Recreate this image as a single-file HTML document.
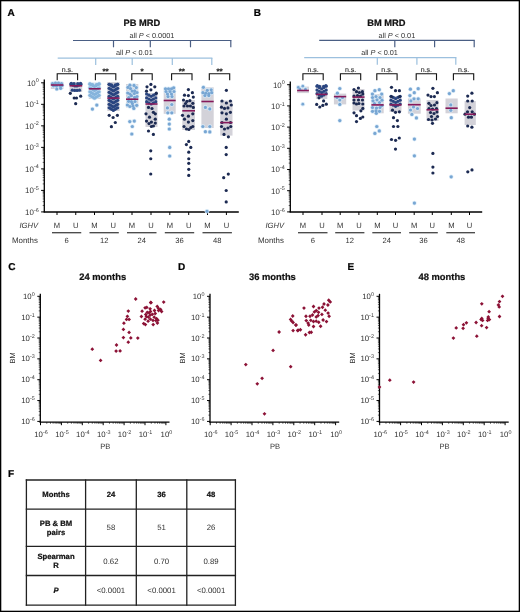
<!DOCTYPE html>
<html><head><meta charset="utf-8"><style>
html,body{margin:0;padding:0;background:#fff;}
svg{display:block;filter:blur(0.3px);}
text{font-family:"Liberation Sans",sans-serif;text-rendering:geometricPrecision;}
</style></head><body>
<svg width="520" height="612" viewBox="0 0 520 612">
<rect x="0.5" y="0.5" width="519" height="611" fill="#fff" stroke="#000" stroke-width="1.6"/>
<text x="7.6" y="16" font-size="10" font-weight="bold" stroke="#000" stroke-width="0.22" fill="#000">A</text>
<text x="123.5" y="26.3" font-size="9.3" font-weight="bold" stroke="#111" stroke-width="0.22" fill="#111">PB MRD</text>
<text x="129.5" y="37.7" font-size="7.3" fill="#333">all <tspan font-style="italic">P</tspan> &lt; 0.0001</text>
<line x1="73" y1="40.5" x2="231.4" y2="40.5" stroke="#4a5e84" stroke-width="1.2"/>
<line x1="113.5" y1="40.5" x2="113.5" y2="47.3" stroke="#4a5e84" stroke-width="1.2"/>
<line x1="150.3" y1="40.5" x2="150.3" y2="47.3" stroke="#4a5e84" stroke-width="1.2"/>
<line x1="190.5" y1="40.5" x2="190.5" y2="47.3" stroke="#4a5e84" stroke-width="1.2"/>
<line x1="230.8" y1="40.5" x2="230.8" y2="47.3" stroke="#4a5e84" stroke-width="1.2"/>
<text x="116" y="55.4" font-size="7.3" fill="#333">all <tspan font-style="italic">P</tspan> &lt; 0.01</text>
<line x1="57.7" y1="58.1" x2="212.4" y2="58.1" stroke="#9cc0de" stroke-width="1.3"/>
<line x1="95.7" y1="58.1" x2="95.7" y2="65" stroke="#9cc0de" stroke-width="1.2"/>
<line x1="132.2" y1="58.1" x2="132.2" y2="65" stroke="#9cc0de" stroke-width="1.2"/>
<line x1="172.3" y1="58.1" x2="172.3" y2="65" stroke="#9cc0de" stroke-width="1.2"/>
<line x1="211.8" y1="58.1" x2="211.8" y2="65" stroke="#9cc0de" stroke-width="1.2"/>
<path d="M57.2 80.2V73.8H77.6V80.2" fill="none" stroke="#111" stroke-width="1.1"/>
<text x="67.4" y="71.8" font-size="7" text-anchor="middle" fill="#333" stroke="#333" stroke-width="0.15">n.s.</text>
<path d="M95.4 80.2V73.8H115.8V80.2" fill="none" stroke="#111" stroke-width="1.1"/>
<text x="105.6" y="74" font-size="8" text-anchor="middle" font-weight="bold" stroke="#222" stroke-width="0.22" fill="#222">**</text>
<path d="M131.8 80.2V73.8H152.2V80.2" fill="none" stroke="#111" stroke-width="1.1"/>
<text x="142" y="74" font-size="8" text-anchor="middle" font-weight="bold" stroke="#222" stroke-width="0.22" fill="#222">*</text>
<path d="M171.6 80.2V73.8H192V80.2" fill="none" stroke="#111" stroke-width="1.1"/>
<text x="181.8" y="74" font-size="8" text-anchor="middle" font-weight="bold" stroke="#222" stroke-width="0.22" fill="#222">**</text>
<path d="M209.3 80.2V73.8H229.7V80.2" fill="none" stroke="#111" stroke-width="1.1"/>
<text x="219.5" y="74" font-size="8" text-anchor="middle" font-weight="bold" stroke="#222" stroke-width="0.22" fill="#222">**</text>
<line x1="44.3" y1="79.6" x2="44.3" y2="212.2" stroke="#000" stroke-width="1.3"/>
<line x1="43.65" y1="212" x2="238.8" y2="212" stroke="#000" stroke-width="1.3"/>
<line x1="41.1" y1="82.8" x2="44.3" y2="82.8" stroke="#000" stroke-width="1"/>
<text x="38.7" y="85.6" font-size="7.9" text-anchor="end" fill="#333">10<tspan dy="-3.2" font-size="5.4">0</tspan></text>
<line x1="42.7" y1="97.84" x2="44.3" y2="97.84" stroke="#000" stroke-width="0.6"/>
<line x1="42.7" y1="94.05" x2="44.3" y2="94.05" stroke="#000" stroke-width="0.6"/>
<line x1="42.7" y1="91.36" x2="44.3" y2="91.36" stroke="#000" stroke-width="0.6"/>
<line x1="42.7" y1="89.28" x2="44.3" y2="89.28" stroke="#000" stroke-width="0.6"/>
<line x1="42.7" y1="87.57" x2="44.3" y2="87.57" stroke="#000" stroke-width="0.6"/>
<line x1="42.7" y1="86.13" x2="44.3" y2="86.13" stroke="#000" stroke-width="0.6"/>
<line x1="42.7" y1="84.89" x2="44.3" y2="84.89" stroke="#000" stroke-width="0.6"/>
<line x1="42.7" y1="83.78" x2="44.3" y2="83.78" stroke="#000" stroke-width="0.6"/>
<line x1="41.1" y1="104.32" x2="44.3" y2="104.32" stroke="#000" stroke-width="1"/>
<text x="38.7" y="107.12" font-size="7.9" text-anchor="end" fill="#333">10<tspan dy="-3.2" font-size="5.4">-1</tspan></text>
<line x1="42.7" y1="119.36" x2="44.3" y2="119.36" stroke="#000" stroke-width="0.6"/>
<line x1="42.7" y1="115.57" x2="44.3" y2="115.57" stroke="#000" stroke-width="0.6"/>
<line x1="42.7" y1="112.88" x2="44.3" y2="112.88" stroke="#000" stroke-width="0.6"/>
<line x1="42.7" y1="110.8" x2="44.3" y2="110.8" stroke="#000" stroke-width="0.6"/>
<line x1="42.7" y1="109.09" x2="44.3" y2="109.09" stroke="#000" stroke-width="0.6"/>
<line x1="42.7" y1="107.65" x2="44.3" y2="107.65" stroke="#000" stroke-width="0.6"/>
<line x1="42.7" y1="106.41" x2="44.3" y2="106.41" stroke="#000" stroke-width="0.6"/>
<line x1="42.7" y1="105.3" x2="44.3" y2="105.3" stroke="#000" stroke-width="0.6"/>
<line x1="41.1" y1="125.84" x2="44.3" y2="125.84" stroke="#000" stroke-width="1"/>
<text x="38.7" y="128.64" font-size="7.9" text-anchor="end" fill="#333">10<tspan dy="-3.2" font-size="5.4">-2</tspan></text>
<line x1="42.7" y1="140.88" x2="44.3" y2="140.88" stroke="#000" stroke-width="0.6"/>
<line x1="42.7" y1="137.09" x2="44.3" y2="137.09" stroke="#000" stroke-width="0.6"/>
<line x1="42.7" y1="134.4" x2="44.3" y2="134.4" stroke="#000" stroke-width="0.6"/>
<line x1="42.7" y1="132.32" x2="44.3" y2="132.32" stroke="#000" stroke-width="0.6"/>
<line x1="42.7" y1="130.61" x2="44.3" y2="130.61" stroke="#000" stroke-width="0.6"/>
<line x1="42.7" y1="129.17" x2="44.3" y2="129.17" stroke="#000" stroke-width="0.6"/>
<line x1="42.7" y1="127.93" x2="44.3" y2="127.93" stroke="#000" stroke-width="0.6"/>
<line x1="42.7" y1="126.82" x2="44.3" y2="126.82" stroke="#000" stroke-width="0.6"/>
<line x1="41.1" y1="147.36" x2="44.3" y2="147.36" stroke="#000" stroke-width="1"/>
<text x="38.7" y="150.16" font-size="7.9" text-anchor="end" fill="#333">10<tspan dy="-3.2" font-size="5.4">-3</tspan></text>
<line x1="42.7" y1="162.4" x2="44.3" y2="162.4" stroke="#000" stroke-width="0.6"/>
<line x1="42.7" y1="158.61" x2="44.3" y2="158.61" stroke="#000" stroke-width="0.6"/>
<line x1="42.7" y1="155.92" x2="44.3" y2="155.92" stroke="#000" stroke-width="0.6"/>
<line x1="42.7" y1="153.84" x2="44.3" y2="153.84" stroke="#000" stroke-width="0.6"/>
<line x1="42.7" y1="152.13" x2="44.3" y2="152.13" stroke="#000" stroke-width="0.6"/>
<line x1="42.7" y1="150.69" x2="44.3" y2="150.69" stroke="#000" stroke-width="0.6"/>
<line x1="42.7" y1="149.45" x2="44.3" y2="149.45" stroke="#000" stroke-width="0.6"/>
<line x1="42.7" y1="148.34" x2="44.3" y2="148.34" stroke="#000" stroke-width="0.6"/>
<line x1="41.1" y1="168.88" x2="44.3" y2="168.88" stroke="#000" stroke-width="1"/>
<text x="38.7" y="171.68" font-size="7.9" text-anchor="end" fill="#333">10<tspan dy="-3.2" font-size="5.4">-4</tspan></text>
<line x1="42.7" y1="183.92" x2="44.3" y2="183.92" stroke="#000" stroke-width="0.6"/>
<line x1="42.7" y1="180.13" x2="44.3" y2="180.13" stroke="#000" stroke-width="0.6"/>
<line x1="42.7" y1="177.44" x2="44.3" y2="177.44" stroke="#000" stroke-width="0.6"/>
<line x1="42.7" y1="175.36" x2="44.3" y2="175.36" stroke="#000" stroke-width="0.6"/>
<line x1="42.7" y1="173.65" x2="44.3" y2="173.65" stroke="#000" stroke-width="0.6"/>
<line x1="42.7" y1="172.21" x2="44.3" y2="172.21" stroke="#000" stroke-width="0.6"/>
<line x1="42.7" y1="170.97" x2="44.3" y2="170.97" stroke="#000" stroke-width="0.6"/>
<line x1="42.7" y1="169.86" x2="44.3" y2="169.86" stroke="#000" stroke-width="0.6"/>
<line x1="41.1" y1="190.4" x2="44.3" y2="190.4" stroke="#000" stroke-width="1"/>
<text x="38.7" y="193.2" font-size="7.9" text-anchor="end" fill="#333">10<tspan dy="-3.2" font-size="5.4">-5</tspan></text>
<line x1="42.7" y1="205.44" x2="44.3" y2="205.44" stroke="#000" stroke-width="0.6"/>
<line x1="42.7" y1="201.65" x2="44.3" y2="201.65" stroke="#000" stroke-width="0.6"/>
<line x1="42.7" y1="198.96" x2="44.3" y2="198.96" stroke="#000" stroke-width="0.6"/>
<line x1="42.7" y1="196.88" x2="44.3" y2="196.88" stroke="#000" stroke-width="0.6"/>
<line x1="42.7" y1="195.17" x2="44.3" y2="195.17" stroke="#000" stroke-width="0.6"/>
<line x1="42.7" y1="193.73" x2="44.3" y2="193.73" stroke="#000" stroke-width="0.6"/>
<line x1="42.7" y1="192.49" x2="44.3" y2="192.49" stroke="#000" stroke-width="0.6"/>
<line x1="42.7" y1="191.38" x2="44.3" y2="191.38" stroke="#000" stroke-width="0.6"/>
<line x1="41.1" y1="211.92" x2="44.3" y2="211.92" stroke="#000" stroke-width="1"/>
<text x="38.7" y="214.72" font-size="7.9" text-anchor="end" fill="#333">10<tspan dy="-3.2" font-size="5.4">-6</tspan></text>
<line x1="57" y1="212" x2="57" y2="215" stroke="#000" stroke-width="1"/>
<line x1="75.75" y1="212" x2="75.75" y2="215" stroke="#000" stroke-width="1"/>
<line x1="94.5" y1="212" x2="94.5" y2="215" stroke="#000" stroke-width="1"/>
<line x1="113.3" y1="212" x2="113.3" y2="215" stroke="#000" stroke-width="1"/>
<line x1="132" y1="212" x2="132" y2="215" stroke="#000" stroke-width="1"/>
<line x1="151" y1="212" x2="151" y2="215" stroke="#000" stroke-width="1"/>
<line x1="169.8" y1="212" x2="169.8" y2="215" stroke="#000" stroke-width="1"/>
<line x1="188.7" y1="212" x2="188.7" y2="215" stroke="#000" stroke-width="1"/>
<line x1="207.5" y1="212" x2="207.5" y2="215" stroke="#000" stroke-width="1"/>
<line x1="226.4" y1="212" x2="226.4" y2="215" stroke="#000" stroke-width="1"/>
<rect x="50.8" y="82" width="12.6" height="7" fill="#d3d2d9"/>
<rect x="69.6" y="82" width="12.6" height="10" fill="#d3d2d9"/>
<rect x="88.8" y="82.7" width="11.9" height="16.3" fill="#d3d2d9"/>
<rect x="107.3" y="82" width="12.3" height="29" fill="#d3d2d9"/>
<rect x="126" y="84" width="12.3" height="23.5" fill="#d3d2d9"/>
<rect x="145.5" y="93" width="12" height="34" fill="#d3d2d9"/>
<rect x="163.7" y="88.3" width="12" height="25.5" fill="#d3d2d9"/>
<rect x="182.3" y="100" width="12.7" height="30" fill="#d3d2d9"/>
<rect x="201.4" y="87.3" width="12.3" height="40.7" fill="#d3d2d9"/>
<rect x="220.2" y="100.5" width="12.3" height="35.1" fill="#d3d2d9"/>
<circle cx="52.5" cy="83.5" r="2.3" fill="#d9eaf7"/>
<circle cx="55.5" cy="83" r="2.3" fill="#d9eaf7"/>
<circle cx="58.5" cy="83" r="2.3" fill="#d9eaf7"/>
<circle cx="61.5" cy="83.5" r="2.3" fill="#d9eaf7"/>
<circle cx="53.5" cy="85.8" r="2.3" fill="#d9eaf7"/>
<circle cx="56.5" cy="86" r="2.3" fill="#d9eaf7"/>
<circle cx="60" cy="86" r="2.3" fill="#d9eaf7"/>
<circle cx="62" cy="85.5" r="2.3" fill="#d9eaf7"/>
<circle cx="56.8" cy="89" r="2.3" fill="#d9eaf7"/>
<circle cx="60.7" cy="88.3" r="2.3" fill="#d9eaf7"/>
<circle cx="89.9" cy="83.75" r="2.3" fill="#d9eaf7"/>
<circle cx="91.43" cy="84.7" r="2.3" fill="#d9eaf7"/>
<circle cx="92.97" cy="85.65" r="2.3" fill="#d9eaf7"/>
<circle cx="94.5" cy="86.6" r="2.3" fill="#d9eaf7"/>
<circle cx="96.03" cy="85.65" r="2.3" fill="#d9eaf7"/>
<circle cx="97.57" cy="84.7" r="2.3" fill="#d9eaf7"/>
<circle cx="99.1" cy="83.75" r="2.3" fill="#d9eaf7"/>
<circle cx="89.9" cy="87.75" r="2.3" fill="#d9eaf7"/>
<circle cx="91.43" cy="88.7" r="2.3" fill="#d9eaf7"/>
<circle cx="92.97" cy="89.65" r="2.3" fill="#d9eaf7"/>
<circle cx="94.5" cy="90.6" r="2.3" fill="#d9eaf7"/>
<circle cx="96.03" cy="89.65" r="2.3" fill="#d9eaf7"/>
<circle cx="97.57" cy="88.7" r="2.3" fill="#d9eaf7"/>
<circle cx="99.1" cy="87.75" r="2.3" fill="#d9eaf7"/>
<circle cx="89.9" cy="91.75" r="2.3" fill="#d9eaf7"/>
<circle cx="91.43" cy="92.7" r="2.3" fill="#d9eaf7"/>
<circle cx="92.97" cy="93.65" r="2.3" fill="#d9eaf7"/>
<circle cx="94.5" cy="94.6" r="2.3" fill="#d9eaf7"/>
<circle cx="96.03" cy="93.65" r="2.3" fill="#d9eaf7"/>
<circle cx="97.57" cy="92.7" r="2.3" fill="#d9eaf7"/>
<circle cx="99.1" cy="91.75" r="2.3" fill="#d9eaf7"/>
<circle cx="89.9" cy="95.35" r="2.3" fill="#d9eaf7"/>
<circle cx="91.43" cy="96.3" r="2.3" fill="#d9eaf7"/>
<circle cx="92.97" cy="97.25" r="2.3" fill="#d9eaf7"/>
<circle cx="94.5" cy="98.2" r="2.3" fill="#d9eaf7"/>
<circle cx="96.03" cy="97.25" r="2.3" fill="#d9eaf7"/>
<circle cx="97.57" cy="96.3" r="2.3" fill="#d9eaf7"/>
<circle cx="99.1" cy="95.35" r="2.3" fill="#d9eaf7"/>
<circle cx="90" cy="84.2" r="2.3" fill="#d9eaf7"/>
<circle cx="92.6" cy="84.6" r="2.3" fill="#d9eaf7"/>
<circle cx="96.4" cy="84.6" r="2.3" fill="#d9eaf7"/>
<circle cx="99" cy="84.2" r="2.3" fill="#d9eaf7"/>
<circle cx="96.8" cy="105.1" r="2.3" fill="#d9eaf7"/>
<circle cx="92.4" cy="109.1" r="2.3" fill="#d9eaf7"/>
<circle cx="129.9" cy="85.2" r="2.3" fill="#d9eaf7"/>
<circle cx="134" cy="85.4" r="2.3" fill="#d9eaf7"/>
<circle cx="127.9" cy="87.4" r="2.3" fill="#d9eaf7"/>
<circle cx="136.3" cy="87.6" r="2.3" fill="#d9eaf7"/>
<circle cx="130.5" cy="88.6" r="2.3" fill="#d9eaf7"/>
<circle cx="132.1" cy="91.1" r="2.3" fill="#d9eaf7"/>
<circle cx="134.7" cy="90.8" r="2.3" fill="#d9eaf7"/>
<circle cx="127.7" cy="93" r="2.3" fill="#d9eaf7"/>
<circle cx="137" cy="92.5" r="2.3" fill="#d9eaf7"/>
<circle cx="129.9" cy="94" r="2.3" fill="#d9eaf7"/>
<circle cx="134.3" cy="93.5" r="2.3" fill="#d9eaf7"/>
<circle cx="131.4" cy="95.7" r="2.3" fill="#d9eaf7"/>
<circle cx="128.8" cy="97.6" r="2.3" fill="#d9eaf7"/>
<circle cx="134.6" cy="97.4" r="2.3" fill="#d9eaf7"/>
<circle cx="137" cy="96.5" r="2.3" fill="#d9eaf7"/>
<circle cx="131.4" cy="101.6" r="2.3" fill="#d9eaf7"/>
<circle cx="128.6" cy="101.3" r="2.3" fill="#d9eaf7"/>
<circle cx="135" cy="101.5" r="2.3" fill="#d9eaf7"/>
<circle cx="132.4" cy="103.6" r="2.3" fill="#d9eaf7"/>
<circle cx="127.4" cy="105" r="2.3" fill="#d9eaf7"/>
<circle cx="129.9" cy="106.5" r="2.3" fill="#d9eaf7"/>
<circle cx="136.7" cy="105.3" r="2.3" fill="#d9eaf7"/>
<circle cx="133" cy="106" r="2.3" fill="#d9eaf7"/>
<circle cx="133.8" cy="108.4" r="2.3" fill="#d9eaf7"/>
<circle cx="129.8" cy="121.6" r="2.3" fill="#d9eaf7"/>
<circle cx="134.3" cy="121.1" r="2.3" fill="#d9eaf7"/>
<circle cx="132.3" cy="126.5" r="2.3" fill="#d9eaf7"/>
<circle cx="131.8" cy="134" r="2.3" fill="#d9eaf7"/>
<circle cx="165.5" cy="88.8" r="2.3" fill="#d9eaf7"/>
<circle cx="168.5" cy="88.8" r="2.3" fill="#d9eaf7"/>
<circle cx="171.5" cy="88.8" r="2.3" fill="#d9eaf7"/>
<circle cx="173.7" cy="87.8" r="2.3" fill="#d9eaf7"/>
<circle cx="166" cy="91.5" r="2.3" fill="#d9eaf7"/>
<circle cx="170" cy="91.5" r="2.3" fill="#d9eaf7"/>
<circle cx="174" cy="91.5" r="2.3" fill="#d9eaf7"/>
<circle cx="167.5" cy="94" r="2.3" fill="#d9eaf7"/>
<circle cx="171.5" cy="94" r="2.3" fill="#d9eaf7"/>
<circle cx="168" cy="96.6" r="2.3" fill="#d9eaf7"/>
<circle cx="172" cy="96.6" r="2.3" fill="#d9eaf7"/>
<circle cx="171.8" cy="104.5" r="2.3" fill="#d9eaf7"/>
<circle cx="167.4" cy="107.9" r="2.3" fill="#d9eaf7"/>
<circle cx="167.8" cy="112.8" r="2.3" fill="#d9eaf7"/>
<circle cx="171.8" cy="112.8" r="2.3" fill="#d9eaf7"/>
<circle cx="169.3" cy="119.2" r="2.3" fill="#d9eaf7"/>
<circle cx="169.3" cy="124.1" r="2.3" fill="#d9eaf7"/>
<circle cx="169.3" cy="129" r="2.3" fill="#d9eaf7"/>
<circle cx="169.7" cy="147.4" r="2.3" fill="#d9eaf7"/>
<circle cx="169.7" cy="156" r="2.3" fill="#d9eaf7"/>
<circle cx="203.4" cy="87.3" r="2.3" fill="#d9eaf7"/>
<circle cx="207.3" cy="90.3" r="2.3" fill="#d9eaf7"/>
<circle cx="211.2" cy="89.8" r="2.3" fill="#d9eaf7"/>
<circle cx="202.9" cy="92.7" r="2.3" fill="#d9eaf7"/>
<circle cx="205.8" cy="93.2" r="2.3" fill="#d9eaf7"/>
<circle cx="208.8" cy="93.7" r="2.3" fill="#d9eaf7"/>
<circle cx="211.7" cy="92.7" r="2.3" fill="#d9eaf7"/>
<circle cx="204.9" cy="95.6" r="2.3" fill="#d9eaf7"/>
<circle cx="208.8" cy="95.6" r="2.3" fill="#d9eaf7"/>
<circle cx="205.4" cy="107.4" r="2.3" fill="#d9eaf7"/>
<circle cx="209.8" cy="108.9" r="2.3" fill="#d9eaf7"/>
<circle cx="202.9" cy="126.5" r="2.3" fill="#d9eaf7"/>
<circle cx="209.8" cy="126.5" r="2.3" fill="#d9eaf7"/>
<circle cx="205.4" cy="131.7" r="2.3" fill="#d9eaf7"/>
<circle cx="209.8" cy="131.9" r="2.3" fill="#d9eaf7"/>
<circle cx="207" cy="211.3" r="2.3" fill="#d9eaf7"/>
<circle cx="52.5" cy="83.5" r="1.6" fill="#78a6d3"/>
<circle cx="55.5" cy="83" r="1.6" fill="#78a6d3"/>
<circle cx="58.5" cy="83" r="1.6" fill="#78a6d3"/>
<circle cx="61.5" cy="83.5" r="1.6" fill="#78a6d3"/>
<circle cx="53.5" cy="85.8" r="1.6" fill="#78a6d3"/>
<circle cx="56.5" cy="86" r="1.6" fill="#78a6d3"/>
<circle cx="60" cy="86" r="1.6" fill="#78a6d3"/>
<circle cx="62" cy="85.5" r="1.6" fill="#78a6d3"/>
<circle cx="56.8" cy="89" r="1.6" fill="#78a6d3"/>
<circle cx="60.7" cy="88.3" r="1.6" fill="#78a6d3"/>
<circle cx="70.9" cy="84.15" r="1.6" fill="#2a4580"/>
<circle cx="72.9" cy="85.05" r="1.6" fill="#2a4580"/>
<circle cx="74.9" cy="85.95" r="1.6" fill="#2a4580"/>
<circle cx="76.9" cy="85.95" r="1.6" fill="#2a4580"/>
<circle cx="78.9" cy="85.05" r="1.6" fill="#2a4580"/>
<circle cx="80.9" cy="84.15" r="1.6" fill="#2a4580"/>
<circle cx="71.3" cy="83.3" r="1.6" fill="#2a4580"/>
<circle cx="74" cy="83.6" r="1.6" fill="#2a4580"/>
<circle cx="77.8" cy="83.6" r="1.6" fill="#2a4580"/>
<circle cx="80.5" cy="83.3" r="1.6" fill="#2a4580"/>
<circle cx="72.3" cy="90.14" r="1.6" fill="#2a4580"/>
<circle cx="74.7" cy="90.38" r="1.6" fill="#2a4580"/>
<circle cx="77.1" cy="90.38" r="1.6" fill="#2a4580"/>
<circle cx="79.5" cy="90.14" r="1.6" fill="#2a4580"/>
<circle cx="70.3" cy="93.3" r="1.6" fill="#1c2a52"/>
<circle cx="74.2" cy="98" r="1.6" fill="#1c2a52"/>
<circle cx="76.5" cy="98" r="1.6" fill="#1c2a52"/>
<circle cx="80.7" cy="96.2" r="1.6" fill="#1c2a52"/>
<circle cx="75.7" cy="103.7" r="1.6" fill="#1c2a52"/>
<circle cx="89.9" cy="83.75" r="1.6" fill="#86b4dc"/>
<circle cx="91.43" cy="84.7" r="1.6" fill="#86b4dc"/>
<circle cx="92.97" cy="85.65" r="1.6" fill="#86b4dc"/>
<circle cx="94.5" cy="86.6" r="1.6" fill="#86b4dc"/>
<circle cx="96.03" cy="85.65" r="1.6" fill="#86b4dc"/>
<circle cx="97.57" cy="84.7" r="1.6" fill="#86b4dc"/>
<circle cx="99.1" cy="83.75" r="1.6" fill="#86b4dc"/>
<circle cx="89.9" cy="87.75" r="1.6" fill="#86b4dc"/>
<circle cx="91.43" cy="88.7" r="1.6" fill="#86b4dc"/>
<circle cx="92.97" cy="89.65" r="1.6" fill="#86b4dc"/>
<circle cx="94.5" cy="90.6" r="1.6" fill="#86b4dc"/>
<circle cx="96.03" cy="89.65" r="1.6" fill="#86b4dc"/>
<circle cx="97.57" cy="88.7" r="1.6" fill="#86b4dc"/>
<circle cx="99.1" cy="87.75" r="1.6" fill="#86b4dc"/>
<circle cx="89.9" cy="91.75" r="1.6" fill="#86b4dc"/>
<circle cx="91.43" cy="92.7" r="1.6" fill="#86b4dc"/>
<circle cx="92.97" cy="93.65" r="1.6" fill="#86b4dc"/>
<circle cx="94.5" cy="94.6" r="1.6" fill="#86b4dc"/>
<circle cx="96.03" cy="93.65" r="1.6" fill="#86b4dc"/>
<circle cx="97.57" cy="92.7" r="1.6" fill="#86b4dc"/>
<circle cx="99.1" cy="91.75" r="1.6" fill="#86b4dc"/>
<circle cx="89.9" cy="95.35" r="1.6" fill="#86b4dc"/>
<circle cx="91.43" cy="96.3" r="1.6" fill="#86b4dc"/>
<circle cx="92.97" cy="97.25" r="1.6" fill="#86b4dc"/>
<circle cx="94.5" cy="98.2" r="1.6" fill="#86b4dc"/>
<circle cx="96.03" cy="97.25" r="1.6" fill="#86b4dc"/>
<circle cx="97.57" cy="96.3" r="1.6" fill="#86b4dc"/>
<circle cx="99.1" cy="95.35" r="1.6" fill="#86b4dc"/>
<circle cx="90" cy="84.2" r="1.6" fill="#86b4dc"/>
<circle cx="92.6" cy="84.6" r="1.6" fill="#86b4dc"/>
<circle cx="96.4" cy="84.6" r="1.6" fill="#86b4dc"/>
<circle cx="99" cy="84.2" r="1.6" fill="#86b4dc"/>
<circle cx="96.8" cy="105.1" r="1.6" fill="#78a6d3"/>
<circle cx="92.4" cy="109.1" r="1.6" fill="#78a6d3"/>
<circle cx="109.1" cy="84.33" r="1.6" fill="#2a4580"/>
<circle cx="110.53" cy="85.22" r="1.6" fill="#2a4580"/>
<circle cx="111.97" cy="86.11" r="1.6" fill="#2a4580"/>
<circle cx="113.4" cy="87" r="1.6" fill="#2a4580"/>
<circle cx="114.83" cy="86.11" r="1.6" fill="#2a4580"/>
<circle cx="116.27" cy="85.22" r="1.6" fill="#2a4580"/>
<circle cx="117.7" cy="84.33" r="1.6" fill="#2a4580"/>
<circle cx="109.1" cy="88.33" r="1.6" fill="#2a4580"/>
<circle cx="110.53" cy="89.22" r="1.6" fill="#2a4580"/>
<circle cx="111.97" cy="90.11" r="1.6" fill="#2a4580"/>
<circle cx="113.4" cy="91" r="1.6" fill="#2a4580"/>
<circle cx="114.83" cy="90.11" r="1.6" fill="#2a4580"/>
<circle cx="116.27" cy="89.22" r="1.6" fill="#2a4580"/>
<circle cx="117.7" cy="88.33" r="1.6" fill="#2a4580"/>
<circle cx="109.1" cy="92.33" r="1.6" fill="#2a4580"/>
<circle cx="110.53" cy="93.22" r="1.6" fill="#2a4580"/>
<circle cx="111.97" cy="94.11" r="1.6" fill="#2a4580"/>
<circle cx="113.4" cy="95" r="1.6" fill="#2a4580"/>
<circle cx="114.83" cy="94.11" r="1.6" fill="#2a4580"/>
<circle cx="116.27" cy="93.22" r="1.6" fill="#2a4580"/>
<circle cx="117.7" cy="92.33" r="1.6" fill="#2a4580"/>
<circle cx="109.1" cy="96.33" r="1.6" fill="#2a4580"/>
<circle cx="110.53" cy="97.22" r="1.6" fill="#2a4580"/>
<circle cx="111.97" cy="98.11" r="1.6" fill="#2a4580"/>
<circle cx="113.4" cy="99" r="1.6" fill="#2a4580"/>
<circle cx="114.83" cy="98.11" r="1.6" fill="#2a4580"/>
<circle cx="116.27" cy="97.22" r="1.6" fill="#2a4580"/>
<circle cx="117.7" cy="96.33" r="1.6" fill="#2a4580"/>
<circle cx="109.1" cy="100.33" r="1.6" fill="#2a4580"/>
<circle cx="110.53" cy="101.22" r="1.6" fill="#2a4580"/>
<circle cx="111.97" cy="102.11" r="1.6" fill="#2a4580"/>
<circle cx="113.4" cy="103" r="1.6" fill="#2a4580"/>
<circle cx="114.83" cy="102.11" r="1.6" fill="#2a4580"/>
<circle cx="116.27" cy="101.22" r="1.6" fill="#2a4580"/>
<circle cx="117.7" cy="100.33" r="1.6" fill="#2a4580"/>
<circle cx="109.1" cy="104.33" r="1.6" fill="#2a4580"/>
<circle cx="110.53" cy="105.22" r="1.6" fill="#2a4580"/>
<circle cx="111.97" cy="106.11" r="1.6" fill="#2a4580"/>
<circle cx="113.4" cy="107" r="1.6" fill="#2a4580"/>
<circle cx="114.83" cy="106.11" r="1.6" fill="#2a4580"/>
<circle cx="116.27" cy="105.22" r="1.6" fill="#2a4580"/>
<circle cx="117.7" cy="104.33" r="1.6" fill="#2a4580"/>
<circle cx="109.1" cy="107.73" r="1.6" fill="#2a4580"/>
<circle cx="110.53" cy="108.62" r="1.6" fill="#2a4580"/>
<circle cx="111.97" cy="109.51" r="1.6" fill="#2a4580"/>
<circle cx="113.4" cy="110.4" r="1.6" fill="#2a4580"/>
<circle cx="114.83" cy="109.51" r="1.6" fill="#2a4580"/>
<circle cx="116.27" cy="108.62" r="1.6" fill="#2a4580"/>
<circle cx="117.7" cy="107.73" r="1.6" fill="#2a4580"/>
<circle cx="109.3" cy="84.3" r="1.6" fill="#2a4580"/>
<circle cx="111.5" cy="84.8" r="1.6" fill="#2a4580"/>
<circle cx="115.3" cy="84.8" r="1.6" fill="#2a4580"/>
<circle cx="117.5" cy="84.3" r="1.6" fill="#2a4580"/>
<circle cx="109.2" cy="115.3" r="1.6" fill="#1c2a52"/>
<circle cx="113.1" cy="117.5" r="1.6" fill="#1c2a52"/>
<circle cx="117.4" cy="115.3" r="1.6" fill="#1c2a52"/>
<circle cx="115.3" cy="122.5" r="1.6" fill="#1c2a52"/>
<circle cx="111.4" cy="126.7" r="1.6" fill="#1c2a52"/>
<circle cx="129.9" cy="85.2" r="1.6" fill="#78a6d3"/>
<circle cx="134" cy="85.4" r="1.6" fill="#78a6d3"/>
<circle cx="127.9" cy="87.4" r="1.6" fill="#78a6d3"/>
<circle cx="136.3" cy="87.6" r="1.6" fill="#78a6d3"/>
<circle cx="130.5" cy="88.6" r="1.6" fill="#78a6d3"/>
<circle cx="132.1" cy="91.1" r="1.6" fill="#78a6d3"/>
<circle cx="134.7" cy="90.8" r="1.6" fill="#78a6d3"/>
<circle cx="127.7" cy="93" r="1.6" fill="#78a6d3"/>
<circle cx="137" cy="92.5" r="1.6" fill="#78a6d3"/>
<circle cx="129.9" cy="94" r="1.6" fill="#78a6d3"/>
<circle cx="134.3" cy="93.5" r="1.6" fill="#78a6d3"/>
<circle cx="131.4" cy="95.7" r="1.6" fill="#78a6d3"/>
<circle cx="128.8" cy="97.6" r="1.6" fill="#78a6d3"/>
<circle cx="134.6" cy="97.4" r="1.6" fill="#78a6d3"/>
<circle cx="137" cy="96.5" r="1.6" fill="#78a6d3"/>
<circle cx="131.4" cy="101.6" r="1.6" fill="#78a6d3"/>
<circle cx="128.6" cy="101.3" r="1.6" fill="#78a6d3"/>
<circle cx="135" cy="101.5" r="1.6" fill="#78a6d3"/>
<circle cx="132.4" cy="103.6" r="1.6" fill="#78a6d3"/>
<circle cx="127.4" cy="105" r="1.6" fill="#78a6d3"/>
<circle cx="129.9" cy="106.5" r="1.6" fill="#78a6d3"/>
<circle cx="136.7" cy="105.3" r="1.6" fill="#78a6d3"/>
<circle cx="133" cy="106" r="1.6" fill="#78a6d3"/>
<circle cx="133.8" cy="108.4" r="1.6" fill="#78a6d3"/>
<circle cx="129.8" cy="121.6" r="1.6" fill="#78a6d3"/>
<circle cx="134.3" cy="121.1" r="1.6" fill="#78a6d3"/>
<circle cx="132.3" cy="126.5" r="1.6" fill="#78a6d3"/>
<circle cx="131.8" cy="134" r="1.6" fill="#78a6d3"/>
<circle cx="146.6" cy="94" r="1.6" fill="#2a4580"/>
<circle cx="148.9" cy="95.15" r="1.6" fill="#2a4580"/>
<circle cx="151.2" cy="96.3" r="1.6" fill="#2a4580"/>
<circle cx="153.5" cy="95.15" r="1.6" fill="#2a4580"/>
<circle cx="155.8" cy="94" r="1.6" fill="#2a4580"/>
<circle cx="146.6" cy="97.9" r="1.6" fill="#2a4580"/>
<circle cx="148.9" cy="99.05" r="1.6" fill="#2a4580"/>
<circle cx="151.2" cy="100.2" r="1.6" fill="#2a4580"/>
<circle cx="153.5" cy="99.05" r="1.6" fill="#2a4580"/>
<circle cx="155.8" cy="97.9" r="1.6" fill="#2a4580"/>
<circle cx="146.6" cy="101.7" r="1.6" fill="#2a4580"/>
<circle cx="148.9" cy="102.85" r="1.6" fill="#2a4580"/>
<circle cx="151.2" cy="104" r="1.6" fill="#2a4580"/>
<circle cx="153.5" cy="102.85" r="1.6" fill="#2a4580"/>
<circle cx="155.8" cy="101.7" r="1.6" fill="#2a4580"/>
<circle cx="150.9" cy="84.4" r="1.6" fill="#1c2a52"/>
<circle cx="147" cy="86.8" r="1.6" fill="#1c2a52"/>
<circle cx="154.8" cy="86.8" r="1.6" fill="#1c2a52"/>
<circle cx="150.9" cy="89.8" r="1.6" fill="#1c2a52"/>
<circle cx="146.5" cy="91.2" r="1.6" fill="#1c2a52"/>
<circle cx="156.3" cy="93.2" r="1.6" fill="#1c2a52"/>
<circle cx="148.5" cy="107.4" r="1.6" fill="#1c2a52"/>
<circle cx="152" cy="108.5" r="1.6" fill="#1c2a52"/>
<circle cx="146" cy="113.8" r="1.6" fill="#1c2a52"/>
<circle cx="153.4" cy="112.3" r="1.6" fill="#1c2a52"/>
<circle cx="155.3" cy="113.8" r="1.6" fill="#1c2a52"/>
<circle cx="149.5" cy="117.2" r="1.6" fill="#1c2a52"/>
<circle cx="155.3" cy="119.2" r="1.6" fill="#1c2a52"/>
<circle cx="146.5" cy="121.1" r="1.6" fill="#1c2a52"/>
<circle cx="151.4" cy="122.1" r="1.6" fill="#1c2a52"/>
<circle cx="149" cy="123.6" r="1.6" fill="#1c2a52"/>
<circle cx="155.3" cy="123.1" r="1.6" fill="#1c2a52"/>
<circle cx="151.4" cy="126.5" r="1.6" fill="#1c2a52"/>
<circle cx="153.4" cy="126" r="1.6" fill="#1c2a52"/>
<circle cx="148.5" cy="131" r="1.6" fill="#1c2a52"/>
<circle cx="153.4" cy="134.4" r="1.6" fill="#1c2a52"/>
<circle cx="150.75" cy="150.8" r="1.6" fill="#1c2a52"/>
<circle cx="150.75" cy="158.75" r="1.6" fill="#1c2a52"/>
<circle cx="150.75" cy="174" r="1.6" fill="#1c2a52"/>
<circle cx="165.5" cy="88.8" r="1.6" fill="#78a6d3"/>
<circle cx="168.5" cy="88.8" r="1.6" fill="#78a6d3"/>
<circle cx="171.5" cy="88.8" r="1.6" fill="#78a6d3"/>
<circle cx="173.7" cy="87.8" r="1.6" fill="#78a6d3"/>
<circle cx="166" cy="91.5" r="1.6" fill="#78a6d3"/>
<circle cx="170" cy="91.5" r="1.6" fill="#78a6d3"/>
<circle cx="174" cy="91.5" r="1.6" fill="#78a6d3"/>
<circle cx="167.5" cy="94" r="1.6" fill="#78a6d3"/>
<circle cx="171.5" cy="94" r="1.6" fill="#78a6d3"/>
<circle cx="168" cy="96.6" r="1.6" fill="#78a6d3"/>
<circle cx="172" cy="96.6" r="1.6" fill="#78a6d3"/>
<circle cx="171.8" cy="104.5" r="1.6" fill="#78a6d3"/>
<circle cx="167.4" cy="107.9" r="1.6" fill="#78a6d3"/>
<circle cx="167.8" cy="112.8" r="1.6" fill="#78a6d3"/>
<circle cx="171.8" cy="112.8" r="1.6" fill="#78a6d3"/>
<circle cx="169.3" cy="119.2" r="1.6" fill="#78a6d3"/>
<circle cx="169.3" cy="124.1" r="1.6" fill="#78a6d3"/>
<circle cx="169.3" cy="129" r="1.6" fill="#78a6d3"/>
<circle cx="169.7" cy="147.4" r="1.6" fill="#78a6d3"/>
<circle cx="169.7" cy="156" r="1.6" fill="#78a6d3"/>
<circle cx="188.4" cy="89.6" r="1.6" fill="#1c2a52"/>
<circle cx="192.4" cy="92.7" r="1.6" fill="#1c2a52"/>
<circle cx="184.5" cy="95.2" r="1.6" fill="#1c2a52"/>
<circle cx="188.4" cy="95.6" r="1.6" fill="#1c2a52"/>
<circle cx="193.3" cy="97.1" r="1.6" fill="#1c2a52"/>
<circle cx="183.5" cy="100" r="1.6" fill="#1c2a52"/>
<circle cx="187" cy="101.3" r="1.6" fill="#1c2a52"/>
<circle cx="189.9" cy="100.7" r="1.6" fill="#1c2a52"/>
<circle cx="192.8" cy="103.3" r="1.6" fill="#1c2a52"/>
<circle cx="184" cy="106" r="1.6" fill="#1c2a52"/>
<circle cx="187.5" cy="106" r="1.6" fill="#1c2a52"/>
<circle cx="190.4" cy="106" r="1.6" fill="#1c2a52"/>
<circle cx="193.3" cy="107.4" r="1.6" fill="#1c2a52"/>
<circle cx="185.5" cy="103.5" r="1.6" fill="#1c2a52"/>
<circle cx="182.5" cy="115.3" r="1.6" fill="#1c2a52"/>
<circle cx="188.4" cy="116.2" r="1.6" fill="#1c2a52"/>
<circle cx="192.8" cy="113.8" r="1.6" fill="#1c2a52"/>
<circle cx="184.5" cy="119.2" r="1.6" fill="#1c2a52"/>
<circle cx="188.4" cy="122.1" r="1.6" fill="#1c2a52"/>
<circle cx="192.8" cy="120.6" r="1.6" fill="#1c2a52"/>
<circle cx="184" cy="126.5" r="1.6" fill="#1c2a52"/>
<circle cx="186.5" cy="129" r="1.6" fill="#1c2a52"/>
<circle cx="188.9" cy="129.5" r="1.6" fill="#1c2a52"/>
<circle cx="190.9" cy="127.5" r="1.6" fill="#1c2a52"/>
<circle cx="192.8" cy="126.5" r="1.6" fill="#1c2a52"/>
<circle cx="188.75" cy="141.4" r="1.6" fill="#1c2a52"/>
<circle cx="186.4" cy="144.6" r="1.6" fill="#1c2a52"/>
<circle cx="190.8" cy="147.4" r="1.6" fill="#1c2a52"/>
<circle cx="188.75" cy="152.2" r="1.6" fill="#1c2a52"/>
<circle cx="188.75" cy="158.75" r="1.6" fill="#1c2a52"/>
<circle cx="188.75" cy="163.3" r="1.6" fill="#1c2a52"/>
<circle cx="188.75" cy="169.3" r="1.6" fill="#1c2a52"/>
<circle cx="188.75" cy="175.4" r="1.6" fill="#1c2a52"/>
<circle cx="203.4" cy="87.3" r="1.6" fill="#78a6d3"/>
<circle cx="207.3" cy="90.3" r="1.6" fill="#78a6d3"/>
<circle cx="211.2" cy="89.8" r="1.6" fill="#78a6d3"/>
<circle cx="202.9" cy="92.7" r="1.6" fill="#78a6d3"/>
<circle cx="205.8" cy="93.2" r="1.6" fill="#78a6d3"/>
<circle cx="208.8" cy="93.7" r="1.6" fill="#78a6d3"/>
<circle cx="211.7" cy="92.7" r="1.6" fill="#78a6d3"/>
<circle cx="204.9" cy="95.6" r="1.6" fill="#78a6d3"/>
<circle cx="208.8" cy="95.6" r="1.6" fill="#78a6d3"/>
<circle cx="205.4" cy="107.4" r="1.6" fill="#78a6d3"/>
<circle cx="209.8" cy="108.9" r="1.6" fill="#78a6d3"/>
<circle cx="202.9" cy="126.5" r="1.6" fill="#78a6d3"/>
<circle cx="209.8" cy="126.5" r="1.6" fill="#78a6d3"/>
<circle cx="205.4" cy="131.7" r="1.6" fill="#78a6d3"/>
<circle cx="209.8" cy="131.9" r="1.6" fill="#78a6d3"/>
<circle cx="207" cy="211.3" r="1.6" fill="#78a6d3"/>
<circle cx="226.4" cy="90.3" r="1.6" fill="#1c2a52"/>
<circle cx="222" cy="101" r="1.6" fill="#1c2a52"/>
<circle cx="230.4" cy="101" r="1.6" fill="#1c2a52"/>
<circle cx="226.4" cy="103" r="1.6" fill="#1c2a52"/>
<circle cx="231.3" cy="105" r="1.6" fill="#1c2a52"/>
<circle cx="221.5" cy="107.2" r="1.6" fill="#1c2a52"/>
<circle cx="224.5" cy="108.4" r="1.6" fill="#1c2a52"/>
<circle cx="227.9" cy="107.9" r="1.6" fill="#1c2a52"/>
<circle cx="222" cy="112.8" r="1.6" fill="#1c2a52"/>
<circle cx="226.4" cy="113.8" r="1.6" fill="#1c2a52"/>
<circle cx="230.4" cy="112.3" r="1.6" fill="#1c2a52"/>
<circle cx="226.4" cy="119.2" r="1.6" fill="#1c2a52"/>
<circle cx="222" cy="122.5" r="1.6" fill="#1c2a52"/>
<circle cx="230.5" cy="122.5" r="1.6" fill="#1c2a52"/>
<circle cx="221.5" cy="126.5" r="1.6" fill="#1c2a52"/>
<circle cx="224.5" cy="129" r="1.6" fill="#1c2a52"/>
<circle cx="227.9" cy="128" r="1.6" fill="#1c2a52"/>
<circle cx="230.8" cy="126.5" r="1.6" fill="#1c2a52"/>
<circle cx="224" cy="134.4" r="1.6" fill="#1c2a52"/>
<circle cx="228.4" cy="136.8" r="1.6" fill="#1c2a52"/>
<circle cx="226.2" cy="147.4" r="1.6" fill="#1c2a52"/>
<circle cx="226.2" cy="154.6" r="1.6" fill="#1c2a52"/>
<circle cx="228.3" cy="174.1" r="1.6" fill="#1c2a52"/>
<circle cx="223.7" cy="177.7" r="1.6" fill="#1c2a52"/>
<circle cx="226.2" cy="190.5" r="1.6" fill="#1c2a52"/>
<circle cx="226.2" cy="201.9" r="1.6" fill="#1c2a52"/>
<line x1="50.8" y1="85" x2="63.4" y2="85" stroke="#86195a" stroke-width="1.6"/>
<line x1="69.6" y1="85.8" x2="82.2" y2="85.8" stroke="#86195a" stroke-width="1.6"/>
<line x1="88.8" y1="88.8" x2="100.7" y2="88.8" stroke="#86195a" stroke-width="1.6"/>
<line x1="107.3" y1="98.1" x2="119.6" y2="98.1" stroke="#86195a" stroke-width="1.6"/>
<line x1="126" y1="99.2" x2="138.3" y2="99.2" stroke="#86195a" stroke-width="1.6"/>
<line x1="145.5" y1="104" x2="157.5" y2="104" stroke="#86195a" stroke-width="1.6"/>
<line x1="163.7" y1="100.5" x2="175.7" y2="100.5" stroke="#86195a" stroke-width="1.6"/>
<line x1="182.3" y1="110.8" x2="195" y2="110.8" stroke="#86195a" stroke-width="1.6"/>
<line x1="201.4" y1="101.5" x2="213.7" y2="101.5" stroke="#86195a" stroke-width="1.6"/>
<line x1="220.2" y1="122.6" x2="232.5" y2="122.6" stroke="#86195a" stroke-width="1.6"/>
<text x="19.5" y="228.2" font-size="7.6" font-style="italic" fill="#333">IGHV</text>
<text x="12" y="242.7" font-size="7.9" fill="#333">Months</text>
<text x="57" y="228.2" font-size="7.6" text-anchor="middle" fill="#333">M</text>
<text x="75.75" y="228.2" font-size="7.6" text-anchor="middle" fill="#333">U</text>
<text x="94.5" y="228.2" font-size="7.6" text-anchor="middle" fill="#333">M</text>
<text x="113.3" y="228.2" font-size="7.6" text-anchor="middle" fill="#333">U</text>
<text x="132" y="228.2" font-size="7.6" text-anchor="middle" fill="#333">M</text>
<text x="151" y="228.2" font-size="7.6" text-anchor="middle" fill="#333">U</text>
<text x="169.8" y="228.2" font-size="7.6" text-anchor="middle" fill="#333">M</text>
<text x="188.7" y="228.2" font-size="7.6" text-anchor="middle" fill="#333">U</text>
<text x="207.5" y="228.2" font-size="7.6" text-anchor="middle" fill="#333">M</text>
<text x="226.4" y="228.2" font-size="7.6" text-anchor="middle" fill="#333">U</text>
<line x1="52" y1="232.7" x2="81.25" y2="232.7" stroke="#444" stroke-width="1.3"/>
<text x="66.62" y="242.7" font-size="7.6" text-anchor="middle" fill="#333">6</text>
<line x1="89.5" y1="232.7" x2="118.8" y2="232.7" stroke="#444" stroke-width="1.3"/>
<text x="104.15" y="242.7" font-size="7.6" text-anchor="middle" fill="#333">12</text>
<line x1="127" y1="232.7" x2="156.5" y2="232.7" stroke="#444" stroke-width="1.3"/>
<text x="141.75" y="242.7" font-size="7.6" text-anchor="middle" fill="#333">24</text>
<line x1="164.8" y1="232.7" x2="194.2" y2="232.7" stroke="#444" stroke-width="1.3"/>
<text x="179.5" y="242.7" font-size="7.6" text-anchor="middle" fill="#333">36</text>
<line x1="202.5" y1="232.7" x2="231.9" y2="232.7" stroke="#444" stroke-width="1.3"/>
<text x="217.2" y="242.7" font-size="7.6" text-anchor="middle" fill="#333">48</text>
<text x="253.8" y="15.8" font-size="10" font-weight="bold" stroke="#000" stroke-width="0.22" fill="#000">B</text>
<text x="367.3" y="26.3" font-size="9.3" font-weight="bold" stroke="#111" stroke-width="0.22" fill="#111">BM MRD</text>
<text x="378.5" y="37.9" font-size="7.3" fill="#333">all <tspan font-style="italic">P</tspan> &lt; 0.01</text>
<line x1="319.2" y1="40.4" x2="474.8" y2="40.4" stroke="#4a5e84" stroke-width="1.2"/>
<line x1="394.8" y1="40.4" x2="394.8" y2="47.3" stroke="#4a5e84" stroke-width="1.2"/>
<line x1="434.6" y1="40.4" x2="434.6" y2="47.3" stroke="#4a5e84" stroke-width="1.2"/>
<line x1="474.2" y1="40.4" x2="474.2" y2="47.3" stroke="#4a5e84" stroke-width="1.2"/>
<text x="361.2" y="55.2" font-size="7.3" fill="#333">all <tspan font-style="italic">P</tspan> &lt; 0.01</text>
<line x1="304.2" y1="57.6" x2="456.4" y2="57.6" stroke="#9cc0de" stroke-width="1.3"/>
<line x1="377.3" y1="57.6" x2="377.3" y2="64.8" stroke="#9cc0de" stroke-width="1.2"/>
<line x1="416.9" y1="57.6" x2="416.9" y2="64.8" stroke="#9cc0de" stroke-width="1.2"/>
<line x1="455.8" y1="57.6" x2="455.8" y2="64.8" stroke="#9cc0de" stroke-width="1.2"/>
<path d="M302.9 80.2V73.8H323.2V80.2" fill="none" stroke="#111" stroke-width="1.1"/>
<text x="313.05" y="71.8" font-size="7" text-anchor="middle" fill="#333" stroke="#333" stroke-width="0.15">n.s.</text>
<path d="M340.4 80.2V73.8H360.7V80.2" fill="none" stroke="#111" stroke-width="1.1"/>
<text x="350.55" y="71.8" font-size="7" text-anchor="middle" fill="#333" stroke="#333" stroke-width="0.15">n.s.</text>
<path d="M376.8 80.2V73.8H397.1V80.2" fill="none" stroke="#111" stroke-width="1.1"/>
<text x="386.95" y="71.8" font-size="7" text-anchor="middle" fill="#333" stroke="#333" stroke-width="0.15">n.s.</text>
<path d="M416.2 80.2V73.8H436.5V80.2" fill="none" stroke="#111" stroke-width="1.1"/>
<text x="426.35" y="71.8" font-size="7" text-anchor="middle" fill="#333" stroke="#333" stroke-width="0.15">n.s.</text>
<path d="M453.4 80.2V73.8H473.7V80.2" fill="none" stroke="#111" stroke-width="1.1"/>
<text x="463.55" y="71.8" font-size="7" text-anchor="middle" fill="#333" stroke="#333" stroke-width="0.15">n.s.</text>
<line x1="290.3" y1="81.6" x2="290.3" y2="212.2" stroke="#000" stroke-width="1.3"/>
<line x1="289.65" y1="212" x2="482.2" y2="212" stroke="#000" stroke-width="1.3"/>
<line x1="287.1" y1="84.7" x2="290.3" y2="84.7" stroke="#000" stroke-width="1"/>
<text x="284.7" y="87.5" font-size="7.9" text-anchor="end" fill="#333">10<tspan dy="-3.2" font-size="5.4">0</tspan></text>
<line x1="288.7" y1="99.52" x2="290.3" y2="99.52" stroke="#000" stroke-width="0.6"/>
<line x1="288.7" y1="95.79" x2="290.3" y2="95.79" stroke="#000" stroke-width="0.6"/>
<line x1="288.7" y1="93.14" x2="290.3" y2="93.14" stroke="#000" stroke-width="0.6"/>
<line x1="288.7" y1="91.08" x2="290.3" y2="91.08" stroke="#000" stroke-width="0.6"/>
<line x1="288.7" y1="89.4" x2="290.3" y2="89.4" stroke="#000" stroke-width="0.6"/>
<line x1="288.7" y1="87.98" x2="290.3" y2="87.98" stroke="#000" stroke-width="0.6"/>
<line x1="288.7" y1="86.75" x2="290.3" y2="86.75" stroke="#000" stroke-width="0.6"/>
<line x1="288.7" y1="85.67" x2="290.3" y2="85.67" stroke="#000" stroke-width="0.6"/>
<line x1="287.1" y1="105.9" x2="290.3" y2="105.9" stroke="#000" stroke-width="1"/>
<text x="284.7" y="108.7" font-size="7.9" text-anchor="end" fill="#333">10<tspan dy="-3.2" font-size="5.4">-1</tspan></text>
<line x1="288.7" y1="120.72" x2="290.3" y2="120.72" stroke="#000" stroke-width="0.6"/>
<line x1="288.7" y1="116.99" x2="290.3" y2="116.99" stroke="#000" stroke-width="0.6"/>
<line x1="288.7" y1="114.34" x2="290.3" y2="114.34" stroke="#000" stroke-width="0.6"/>
<line x1="288.7" y1="112.28" x2="290.3" y2="112.28" stroke="#000" stroke-width="0.6"/>
<line x1="288.7" y1="110.6" x2="290.3" y2="110.6" stroke="#000" stroke-width="0.6"/>
<line x1="288.7" y1="109.18" x2="290.3" y2="109.18" stroke="#000" stroke-width="0.6"/>
<line x1="288.7" y1="107.95" x2="290.3" y2="107.95" stroke="#000" stroke-width="0.6"/>
<line x1="288.7" y1="106.87" x2="290.3" y2="106.87" stroke="#000" stroke-width="0.6"/>
<line x1="287.1" y1="127.1" x2="290.3" y2="127.1" stroke="#000" stroke-width="1"/>
<text x="284.7" y="129.9" font-size="7.9" text-anchor="end" fill="#333">10<tspan dy="-3.2" font-size="5.4">-2</tspan></text>
<line x1="288.7" y1="141.92" x2="290.3" y2="141.92" stroke="#000" stroke-width="0.6"/>
<line x1="288.7" y1="138.19" x2="290.3" y2="138.19" stroke="#000" stroke-width="0.6"/>
<line x1="288.7" y1="135.54" x2="290.3" y2="135.54" stroke="#000" stroke-width="0.6"/>
<line x1="288.7" y1="133.48" x2="290.3" y2="133.48" stroke="#000" stroke-width="0.6"/>
<line x1="288.7" y1="131.8" x2="290.3" y2="131.8" stroke="#000" stroke-width="0.6"/>
<line x1="288.7" y1="130.38" x2="290.3" y2="130.38" stroke="#000" stroke-width="0.6"/>
<line x1="288.7" y1="129.15" x2="290.3" y2="129.15" stroke="#000" stroke-width="0.6"/>
<line x1="288.7" y1="128.07" x2="290.3" y2="128.07" stroke="#000" stroke-width="0.6"/>
<line x1="287.1" y1="148.3" x2="290.3" y2="148.3" stroke="#000" stroke-width="1"/>
<text x="284.7" y="151.1" font-size="7.9" text-anchor="end" fill="#333">10<tspan dy="-3.2" font-size="5.4">-3</tspan></text>
<line x1="288.7" y1="163.12" x2="290.3" y2="163.12" stroke="#000" stroke-width="0.6"/>
<line x1="288.7" y1="159.39" x2="290.3" y2="159.39" stroke="#000" stroke-width="0.6"/>
<line x1="288.7" y1="156.74" x2="290.3" y2="156.74" stroke="#000" stroke-width="0.6"/>
<line x1="288.7" y1="154.68" x2="290.3" y2="154.68" stroke="#000" stroke-width="0.6"/>
<line x1="288.7" y1="153" x2="290.3" y2="153" stroke="#000" stroke-width="0.6"/>
<line x1="288.7" y1="151.58" x2="290.3" y2="151.58" stroke="#000" stroke-width="0.6"/>
<line x1="288.7" y1="150.35" x2="290.3" y2="150.35" stroke="#000" stroke-width="0.6"/>
<line x1="288.7" y1="149.27" x2="290.3" y2="149.27" stroke="#000" stroke-width="0.6"/>
<line x1="287.1" y1="169.5" x2="290.3" y2="169.5" stroke="#000" stroke-width="1"/>
<text x="284.7" y="172.3" font-size="7.9" text-anchor="end" fill="#333">10<tspan dy="-3.2" font-size="5.4">-4</tspan></text>
<line x1="288.7" y1="184.32" x2="290.3" y2="184.32" stroke="#000" stroke-width="0.6"/>
<line x1="288.7" y1="180.59" x2="290.3" y2="180.59" stroke="#000" stroke-width="0.6"/>
<line x1="288.7" y1="177.94" x2="290.3" y2="177.94" stroke="#000" stroke-width="0.6"/>
<line x1="288.7" y1="175.88" x2="290.3" y2="175.88" stroke="#000" stroke-width="0.6"/>
<line x1="288.7" y1="174.2" x2="290.3" y2="174.2" stroke="#000" stroke-width="0.6"/>
<line x1="288.7" y1="172.78" x2="290.3" y2="172.78" stroke="#000" stroke-width="0.6"/>
<line x1="288.7" y1="171.55" x2="290.3" y2="171.55" stroke="#000" stroke-width="0.6"/>
<line x1="288.7" y1="170.47" x2="290.3" y2="170.47" stroke="#000" stroke-width="0.6"/>
<line x1="287.1" y1="190.7" x2="290.3" y2="190.7" stroke="#000" stroke-width="1"/>
<text x="284.7" y="193.5" font-size="7.9" text-anchor="end" fill="#333">10<tspan dy="-3.2" font-size="5.4">-5</tspan></text>
<line x1="288.7" y1="205.52" x2="290.3" y2="205.52" stroke="#000" stroke-width="0.6"/>
<line x1="288.7" y1="201.79" x2="290.3" y2="201.79" stroke="#000" stroke-width="0.6"/>
<line x1="288.7" y1="199.14" x2="290.3" y2="199.14" stroke="#000" stroke-width="0.6"/>
<line x1="288.7" y1="197.08" x2="290.3" y2="197.08" stroke="#000" stroke-width="0.6"/>
<line x1="288.7" y1="195.4" x2="290.3" y2="195.4" stroke="#000" stroke-width="0.6"/>
<line x1="288.7" y1="193.98" x2="290.3" y2="193.98" stroke="#000" stroke-width="0.6"/>
<line x1="288.7" y1="192.75" x2="290.3" y2="192.75" stroke="#000" stroke-width="0.6"/>
<line x1="288.7" y1="191.67" x2="290.3" y2="191.67" stroke="#000" stroke-width="0.6"/>
<line x1="287.1" y1="211.9" x2="290.3" y2="211.9" stroke="#000" stroke-width="1"/>
<text x="284.7" y="214.7" font-size="7.9" text-anchor="end" fill="#333">10<tspan dy="-3.2" font-size="5.4">-6</tspan></text>
<line x1="303" y1="212" x2="303" y2="215" stroke="#000" stroke-width="1"/>
<line x1="322" y1="212" x2="322" y2="215" stroke="#000" stroke-width="1"/>
<line x1="340.2" y1="212" x2="340.2" y2="215" stroke="#000" stroke-width="1"/>
<line x1="358.9" y1="212" x2="358.9" y2="215" stroke="#000" stroke-width="1"/>
<line x1="377.3" y1="212" x2="377.3" y2="215" stroke="#000" stroke-width="1"/>
<line x1="395.5" y1="212" x2="395.5" y2="215" stroke="#000" stroke-width="1"/>
<line x1="414.2" y1="212" x2="414.2" y2="215" stroke="#000" stroke-width="1"/>
<line x1="432.3" y1="212" x2="432.3" y2="215" stroke="#000" stroke-width="1"/>
<line x1="451.3" y1="212" x2="451.3" y2="215" stroke="#000" stroke-width="1"/>
<line x1="469.5" y1="212" x2="469.5" y2="215" stroke="#000" stroke-width="1"/>
<rect x="297.1" y="86.6" width="11.8" height="6.5" fill="#d3d2d9"/>
<rect x="315.9" y="85" width="11.4" height="14" fill="#d3d2d9"/>
<rect x="333.9" y="93.6" width="12.3" height="10.8" fill="#d3d2d9"/>
<rect x="352.5" y="89" width="12" height="21.5" fill="#d3d2d9"/>
<rect x="371.4" y="94.1" width="12.3" height="19.2" fill="#d3d2d9"/>
<rect x="389.5" y="96" width="12" height="16" fill="#d3d2d9"/>
<rect x="407.9" y="98.5" width="12.8" height="15.2" fill="#d3d2d9"/>
<rect x="426.5" y="100" width="12" height="21" fill="#d3d2d9"/>
<rect x="445.5" y="98.5" width="12.2" height="14.8" fill="#d3d2d9"/>
<rect x="464.6" y="101" width="11.2" height="24" fill="#d3d2d9"/>
<circle cx="298.3" cy="87.4" r="2.3" fill="#d9eaf7"/>
<circle cx="302.8" cy="86.2" r="2.3" fill="#d9eaf7"/>
<circle cx="300" cy="89.2" r="2.3" fill="#d9eaf7"/>
<circle cx="305.5" cy="89.2" r="2.3" fill="#d9eaf7"/>
<circle cx="302.8" cy="104.2" r="2.3" fill="#d9eaf7"/>
<circle cx="339.8" cy="88.5" r="2.3" fill="#d9eaf7"/>
<circle cx="337.4" cy="93.2" r="2.3" fill="#d9eaf7"/>
<circle cx="337" cy="97.5" r="2.3" fill="#d9eaf7"/>
<circle cx="342.5" cy="97.5" r="2.3" fill="#d9eaf7"/>
<circle cx="339.8" cy="100" r="2.3" fill="#d9eaf7"/>
<circle cx="339.8" cy="104.4" r="2.3" fill="#d9eaf7"/>
<circle cx="339.8" cy="120.6" r="2.3" fill="#d9eaf7"/>
<circle cx="372.5" cy="97.5" r="2.3" fill="#d9eaf7"/>
<circle cx="376" cy="96.5" r="2.3" fill="#d9eaf7"/>
<circle cx="380" cy="97.5" r="2.3" fill="#d9eaf7"/>
<circle cx="382" cy="100.2" r="2.3" fill="#d9eaf7"/>
<circle cx="373" cy="100.8" r="2.3" fill="#d9eaf7"/>
<circle cx="377" cy="99.8" r="2.3" fill="#d9eaf7"/>
<circle cx="379.5" cy="102.5" r="2.3" fill="#d9eaf7"/>
<circle cx="374.5" cy="103.5" r="2.3" fill="#d9eaf7"/>
<circle cx="372.5" cy="107.5" r="2.3" fill="#d9eaf7"/>
<circle cx="376.5" cy="108" r="2.3" fill="#d9eaf7"/>
<circle cx="380" cy="107.5" r="2.3" fill="#d9eaf7"/>
<circle cx="382" cy="105.5" r="2.3" fill="#d9eaf7"/>
<circle cx="372.5" cy="111.3" r="2.3" fill="#d9eaf7"/>
<circle cx="376" cy="110.8" r="2.3" fill="#d9eaf7"/>
<circle cx="379.5" cy="111.3" r="2.3" fill="#d9eaf7"/>
<circle cx="374.9" cy="90.7" r="2.3" fill="#d9eaf7"/>
<circle cx="379.3" cy="89.7" r="2.3" fill="#d9eaf7"/>
<circle cx="372.4" cy="94.1" r="2.3" fill="#d9eaf7"/>
<circle cx="381.7" cy="94.1" r="2.3" fill="#d9eaf7"/>
<circle cx="376.3" cy="113.3" r="2.3" fill="#d9eaf7"/>
<circle cx="376.8" cy="126.5" r="2.3" fill="#d9eaf7"/>
<circle cx="379.3" cy="130.9" r="2.3" fill="#d9eaf7"/>
<circle cx="374.9" cy="133.4" r="2.3" fill="#d9eaf7"/>
<circle cx="414" cy="98.8" r="2.3" fill="#d9eaf7"/>
<circle cx="418.2" cy="98.8" r="2.3" fill="#d9eaf7"/>
<circle cx="410.9" cy="100.9" r="2.3" fill="#d9eaf7"/>
<circle cx="413.5" cy="107" r="2.3" fill="#d9eaf7"/>
<circle cx="417.5" cy="108.5" r="2.3" fill="#d9eaf7"/>
<circle cx="410.5" cy="110" r="2.3" fill="#d9eaf7"/>
<circle cx="410.4" cy="89.2" r="2.3" fill="#d9eaf7"/>
<circle cx="418.2" cy="88.7" r="2.3" fill="#d9eaf7"/>
<circle cx="414.3" cy="92.7" r="2.3" fill="#d9eaf7"/>
<circle cx="409.9" cy="95.6" r="2.3" fill="#d9eaf7"/>
<circle cx="411.9" cy="114.4" r="2.3" fill="#d9eaf7"/>
<circle cx="416.4" cy="117.9" r="2.3" fill="#d9eaf7"/>
<circle cx="414.4" cy="139.1" r="2.3" fill="#d9eaf7"/>
<circle cx="414.4" cy="155.8" r="2.3" fill="#d9eaf7"/>
<circle cx="414.4" cy="203.1" r="2.3" fill="#d9eaf7"/>
<circle cx="453.3" cy="90.7" r="2.3" fill="#d9eaf7"/>
<circle cx="449.4" cy="93.6" r="2.3" fill="#d9eaf7"/>
<circle cx="450.8" cy="104.9" r="2.3" fill="#d9eaf7"/>
<circle cx="450.8" cy="110.3" r="2.3" fill="#d9eaf7"/>
<circle cx="451.3" cy="117.7" r="2.3" fill="#d9eaf7"/>
<circle cx="451.2" cy="176.8" r="2.3" fill="#d9eaf7"/>
<circle cx="298.3" cy="87.4" r="1.35" fill="#78a6d3"/>
<circle cx="302.8" cy="86.2" r="1.35" fill="#78a6d3"/>
<circle cx="300" cy="89.2" r="1.35" fill="#78a6d3"/>
<circle cx="305.5" cy="89.2" r="1.35" fill="#78a6d3"/>
<circle cx="302.8" cy="104.2" r="1.35" fill="#78a6d3"/>
<circle cx="317" cy="86.27" r="1.6" fill="#2a4580"/>
<circle cx="319.3" cy="87.53" r="1.6" fill="#2a4580"/>
<circle cx="321.6" cy="88.8" r="1.6" fill="#2a4580"/>
<circle cx="323.9" cy="87.53" r="1.6" fill="#2a4580"/>
<circle cx="326.2" cy="86.27" r="1.6" fill="#2a4580"/>
<circle cx="317" cy="90.07" r="1.6" fill="#2a4580"/>
<circle cx="319.3" cy="91.33" r="1.6" fill="#2a4580"/>
<circle cx="321.6" cy="92.6" r="1.6" fill="#2a4580"/>
<circle cx="323.9" cy="91.33" r="1.6" fill="#2a4580"/>
<circle cx="326.2" cy="90.07" r="1.6" fill="#2a4580"/>
<circle cx="317" cy="93.67" r="1.6" fill="#2a4580"/>
<circle cx="319.3" cy="94.94" r="1.6" fill="#2a4580"/>
<circle cx="321.6" cy="96.2" r="1.6" fill="#2a4580"/>
<circle cx="323.9" cy="94.94" r="1.6" fill="#2a4580"/>
<circle cx="326.2" cy="93.67" r="1.6" fill="#2a4580"/>
<circle cx="317.3" cy="85.6" r="1.6" fill="#2a4580"/>
<circle cx="319.5" cy="86.3" r="1.6" fill="#2a4580"/>
<circle cx="323.7" cy="86.3" r="1.6" fill="#2a4580"/>
<circle cx="325.9" cy="85.6" r="1.6" fill="#2a4580"/>
<circle cx="319" cy="97.8" r="1.6" fill="#1c2a52"/>
<circle cx="323.6" cy="100.9" r="1.6" fill="#1c2a52"/>
<circle cx="316.7" cy="104.4" r="1.6" fill="#1c2a52"/>
<circle cx="319.8" cy="107" r="1.6" fill="#1c2a52"/>
<circle cx="322.8" cy="105.4" r="1.6" fill="#1c2a52"/>
<circle cx="326.3" cy="104.2" r="1.6" fill="#1c2a52"/>
<circle cx="339.8" cy="88.5" r="1.6" fill="#78a6d3"/>
<circle cx="337.4" cy="93.2" r="1.6" fill="#78a6d3"/>
<circle cx="337" cy="97.5" r="1.6" fill="#78a6d3"/>
<circle cx="342.5" cy="97.5" r="1.6" fill="#78a6d3"/>
<circle cx="339.8" cy="100" r="1.6" fill="#78a6d3"/>
<circle cx="339.8" cy="104.4" r="1.6" fill="#78a6d3"/>
<circle cx="339.8" cy="120.6" r="1.6" fill="#78a6d3"/>
<circle cx="358.4" cy="88" r="1.6" fill="#1c2a52"/>
<circle cx="354" cy="89.5" r="1.6" fill="#1c2a52"/>
<circle cx="356.5" cy="91.7" r="1.6" fill="#1c2a52"/>
<circle cx="359.4" cy="92.5" r="1.6" fill="#1c2a52"/>
<circle cx="362.4" cy="91.7" r="1.6" fill="#1c2a52"/>
<circle cx="362.8" cy="94.1" r="1.6" fill="#1c2a52"/>
<circle cx="354" cy="96.1" r="1.6" fill="#1c2a52"/>
<circle cx="357.5" cy="95.5" r="1.6" fill="#1c2a52"/>
<circle cx="360.5" cy="96" r="1.6" fill="#1c2a52"/>
<circle cx="354" cy="100" r="1.6" fill="#1c2a52"/>
<circle cx="358.5" cy="100" r="1.6" fill="#1c2a52"/>
<circle cx="362.5" cy="100" r="1.6" fill="#1c2a52"/>
<circle cx="354" cy="103" r="1.6" fill="#1c2a52"/>
<circle cx="356.5" cy="104" r="1.6" fill="#1c2a52"/>
<circle cx="358.9" cy="103.5" r="1.6" fill="#1c2a52"/>
<circle cx="362.8" cy="104" r="1.6" fill="#1c2a52"/>
<circle cx="362.8" cy="108.4" r="1.6" fill="#1c2a52"/>
<circle cx="360.9" cy="110.8" r="1.6" fill="#1c2a52"/>
<circle cx="354" cy="112.8" r="1.6" fill="#1c2a52"/>
<circle cx="356.5" cy="115.7" r="1.6" fill="#1c2a52"/>
<circle cx="360.4" cy="118.4" r="1.6" fill="#1c2a52"/>
<circle cx="362.8" cy="117" r="1.6" fill="#1c2a52"/>
<circle cx="356.5" cy="121.6" r="1.6" fill="#1c2a52"/>
<circle cx="372.5" cy="97.5" r="1.6" fill="#78a6d3"/>
<circle cx="376" cy="96.5" r="1.6" fill="#78a6d3"/>
<circle cx="380" cy="97.5" r="1.6" fill="#78a6d3"/>
<circle cx="382" cy="100.2" r="1.6" fill="#78a6d3"/>
<circle cx="373" cy="100.8" r="1.6" fill="#78a6d3"/>
<circle cx="377" cy="99.8" r="1.6" fill="#78a6d3"/>
<circle cx="379.5" cy="102.5" r="1.6" fill="#78a6d3"/>
<circle cx="374.5" cy="103.5" r="1.6" fill="#78a6d3"/>
<circle cx="372.5" cy="107.5" r="1.6" fill="#78a6d3"/>
<circle cx="376.5" cy="108" r="1.6" fill="#78a6d3"/>
<circle cx="380" cy="107.5" r="1.6" fill="#78a6d3"/>
<circle cx="382" cy="105.5" r="1.6" fill="#78a6d3"/>
<circle cx="372.5" cy="111.3" r="1.6" fill="#78a6d3"/>
<circle cx="376" cy="110.8" r="1.6" fill="#78a6d3"/>
<circle cx="379.5" cy="111.3" r="1.6" fill="#78a6d3"/>
<circle cx="374.9" cy="90.7" r="1.6" fill="#78a6d3"/>
<circle cx="379.3" cy="89.7" r="1.6" fill="#78a6d3"/>
<circle cx="372.4" cy="94.1" r="1.6" fill="#78a6d3"/>
<circle cx="381.7" cy="94.1" r="1.6" fill="#78a6d3"/>
<circle cx="376.3" cy="113.3" r="1.6" fill="#78a6d3"/>
<circle cx="376.8" cy="126.5" r="1.6" fill="#78a6d3"/>
<circle cx="379.3" cy="130.9" r="1.6" fill="#78a6d3"/>
<circle cx="374.9" cy="133.4" r="1.6" fill="#78a6d3"/>
<circle cx="391" cy="96.3" r="1.6" fill="#2a4580"/>
<circle cx="393.3" cy="97.45" r="1.6" fill="#2a4580"/>
<circle cx="395.6" cy="98.6" r="1.6" fill="#2a4580"/>
<circle cx="397.9" cy="97.45" r="1.6" fill="#2a4580"/>
<circle cx="400.2" cy="96.3" r="1.6" fill="#2a4580"/>
<circle cx="391" cy="100.2" r="1.6" fill="#2a4580"/>
<circle cx="393.3" cy="101.35" r="1.6" fill="#2a4580"/>
<circle cx="395.6" cy="102.5" r="1.6" fill="#2a4580"/>
<circle cx="397.9" cy="101.35" r="1.6" fill="#2a4580"/>
<circle cx="400.2" cy="100.2" r="1.6" fill="#2a4580"/>
<circle cx="391" cy="104" r="1.6" fill="#2a4580"/>
<circle cx="393.3" cy="105.15" r="1.6" fill="#2a4580"/>
<circle cx="395.6" cy="106.3" r="1.6" fill="#2a4580"/>
<circle cx="397.9" cy="105.15" r="1.6" fill="#2a4580"/>
<circle cx="400.2" cy="104" r="1.6" fill="#2a4580"/>
<circle cx="391.5" cy="96.5" r="1.6" fill="#1c2a52"/>
<circle cx="399.6" cy="96.5" r="1.6" fill="#1c2a52"/>
<circle cx="392.5" cy="110.2" r="1.6" fill="#1c2a52"/>
<circle cx="395.5" cy="112.3" r="1.6" fill="#1c2a52"/>
<circle cx="399.4" cy="111.8" r="1.6" fill="#1c2a52"/>
<circle cx="391.5" cy="87.3" r="1.6" fill="#1c2a52"/>
<circle cx="395.5" cy="90.7" r="1.6" fill="#1c2a52"/>
<circle cx="399.4" cy="90.7" r="1.6" fill="#1c2a52"/>
<circle cx="393.5" cy="117.7" r="1.6" fill="#1c2a52"/>
<circle cx="397.4" cy="120.6" r="1.6" fill="#1c2a52"/>
<circle cx="393.5" cy="126.5" r="1.6" fill="#1c2a52"/>
<circle cx="397.9" cy="126.5" r="1.6" fill="#1c2a52"/>
<circle cx="391.5" cy="139.5" r="1.6" fill="#1c2a52"/>
<circle cx="395.6" cy="140.3" r="1.6" fill="#1c2a52"/>
<circle cx="399.3" cy="138" r="1.6" fill="#1c2a52"/>
<circle cx="395.5" cy="149.1" r="1.6" fill="#1c2a52"/>
<circle cx="414" cy="98.8" r="1.6" fill="#78a6d3"/>
<circle cx="418.2" cy="98.8" r="1.6" fill="#78a6d3"/>
<circle cx="410.9" cy="100.9" r="1.6" fill="#78a6d3"/>
<circle cx="413.5" cy="107" r="1.6" fill="#78a6d3"/>
<circle cx="417.5" cy="108.5" r="1.6" fill="#78a6d3"/>
<circle cx="410.5" cy="110" r="1.6" fill="#78a6d3"/>
<circle cx="410.4" cy="89.2" r="1.6" fill="#78a6d3"/>
<circle cx="418.2" cy="88.7" r="1.6" fill="#78a6d3"/>
<circle cx="414.3" cy="92.7" r="1.6" fill="#78a6d3"/>
<circle cx="409.9" cy="95.6" r="1.6" fill="#78a6d3"/>
<circle cx="411.9" cy="114.4" r="1.6" fill="#78a6d3"/>
<circle cx="416.4" cy="117.9" r="1.6" fill="#78a6d3"/>
<circle cx="414.4" cy="139.1" r="1.6" fill="#78a6d3"/>
<circle cx="414.4" cy="155.8" r="1.6" fill="#78a6d3"/>
<circle cx="414.4" cy="203.1" r="1.6" fill="#78a6d3"/>
<circle cx="428.9" cy="103.3" r="1.6" fill="#1c2a52"/>
<circle cx="436.9" cy="102.7" r="1.6" fill="#1c2a52"/>
<circle cx="431" cy="105.5" r="1.6" fill="#1c2a52"/>
<circle cx="434.5" cy="105" r="1.6" fill="#1c2a52"/>
<circle cx="429" cy="108.5" r="1.6" fill="#1c2a52"/>
<circle cx="432.5" cy="109" r="1.6" fill="#1c2a52"/>
<circle cx="436.5" cy="108.5" r="1.6" fill="#1c2a52"/>
<circle cx="430.5" cy="112.5" r="1.6" fill="#1c2a52"/>
<circle cx="434" cy="113.5" r="1.6" fill="#1c2a52"/>
<circle cx="437" cy="112" r="1.6" fill="#1c2a52"/>
<circle cx="431.5" cy="116.5" r="1.6" fill="#1c2a52"/>
<circle cx="428.5" cy="119.5" r="1.6" fill="#1c2a52"/>
<circle cx="432" cy="120" r="1.6" fill="#1c2a52"/>
<circle cx="435.5" cy="119" r="1.6" fill="#1c2a52"/>
<circle cx="437.5" cy="116.5" r="1.6" fill="#1c2a52"/>
<circle cx="432.9" cy="88.3" r="1.6" fill="#1c2a52"/>
<circle cx="437.4" cy="92.7" r="1.6" fill="#1c2a52"/>
<circle cx="428" cy="95.1" r="1.6" fill="#1c2a52"/>
<circle cx="431" cy="96.6" r="1.6" fill="#1c2a52"/>
<circle cx="434.4" cy="96.6" r="1.6" fill="#1c2a52"/>
<circle cx="432.5" cy="123.3" r="1.6" fill="#1c2a52"/>
<circle cx="432.9" cy="153.4" r="1.6" fill="#1c2a52"/>
<circle cx="432.9" cy="167.1" r="1.6" fill="#1c2a52"/>
<circle cx="432.9" cy="173" r="1.6" fill="#1c2a52"/>
<circle cx="453.3" cy="90.7" r="1.6" fill="#78a6d3"/>
<circle cx="449.4" cy="93.6" r="1.6" fill="#78a6d3"/>
<circle cx="450.8" cy="104.9" r="1.6" fill="#78a6d3"/>
<circle cx="450.8" cy="110.3" r="1.6" fill="#78a6d3"/>
<circle cx="451.3" cy="117.7" r="1.6" fill="#78a6d3"/>
<circle cx="451.2" cy="176.8" r="1.6" fill="#78a6d3"/>
<circle cx="471.9" cy="93.2" r="1.6" fill="#1c2a52"/>
<circle cx="467.7" cy="96.1" r="1.6" fill="#1c2a52"/>
<circle cx="467.7" cy="101" r="1.6" fill="#1c2a52"/>
<circle cx="472.2" cy="101" r="1.6" fill="#1c2a52"/>
<circle cx="469.7" cy="107.6" r="1.6" fill="#1c2a52"/>
<circle cx="467.5" cy="111.8" r="1.6" fill="#1c2a52"/>
<circle cx="472.2" cy="111.8" r="1.6" fill="#1c2a52"/>
<circle cx="465" cy="114.2" r="1.6" fill="#1c2a52"/>
<circle cx="474.4" cy="114.2" r="1.6" fill="#1c2a52"/>
<circle cx="468.5" cy="117.2" r="1.6" fill="#1c2a52"/>
<circle cx="471.4" cy="117.2" r="1.6" fill="#1c2a52"/>
<circle cx="467.7" cy="126" r="1.6" fill="#1c2a52"/>
<circle cx="471.9" cy="127.2" r="1.6" fill="#1c2a52"/>
<circle cx="467.8" cy="171.8" r="1.6" fill="#1c2a52"/>
<circle cx="472" cy="169.9" r="1.6" fill="#1c2a52"/>
<line x1="297.1" y1="90.5" x2="308.9" y2="90.5" stroke="#86195a" stroke-width="1.6"/>
<line x1="315.9" y1="94.4" x2="327.3" y2="94.4" stroke="#86195a" stroke-width="1.6"/>
<line x1="333.9" y1="96.6" x2="346.2" y2="96.6" stroke="#86195a" stroke-width="1.6"/>
<line x1="352.5" y1="97.1" x2="364.5" y2="97.1" stroke="#86195a" stroke-width="1.6"/>
<line x1="371.4" y1="104.9" x2="383.7" y2="104.9" stroke="#86195a" stroke-width="1.6"/>
<line x1="389.5" y1="104.9" x2="401.5" y2="104.9" stroke="#86195a" stroke-width="1.6"/>
<line x1="407.9" y1="104.7" x2="420.7" y2="104.7" stroke="#86195a" stroke-width="1.6"/>
<line x1="426.5" y1="109.8" x2="438.5" y2="109.8" stroke="#86195a" stroke-width="1.6"/>
<line x1="445.5" y1="108.2" x2="457.7" y2="108.2" stroke="#86195a" stroke-width="1.6"/>
<line x1="464.6" y1="114.2" x2="475.8" y2="114.2" stroke="#86195a" stroke-width="1.6"/>
<text x="265.4" y="228.2" font-size="7.6" font-style="italic" fill="#333">IGHV</text>
<text x="258" y="242.7" font-size="7.9" fill="#333">Months</text>
<text x="303" y="228.2" font-size="7.6" text-anchor="middle" fill="#333">M</text>
<text x="322" y="228.2" font-size="7.6" text-anchor="middle" fill="#333">U</text>
<text x="340.2" y="228.2" font-size="7.6" text-anchor="middle" fill="#333">M</text>
<text x="358.9" y="228.2" font-size="7.6" text-anchor="middle" fill="#333">U</text>
<text x="377.3" y="228.2" font-size="7.6" text-anchor="middle" fill="#333">M</text>
<text x="395.5" y="228.2" font-size="7.6" text-anchor="middle" fill="#333">U</text>
<text x="414.2" y="228.2" font-size="7.6" text-anchor="middle" fill="#333">M</text>
<text x="432.3" y="228.2" font-size="7.6" text-anchor="middle" fill="#333">U</text>
<text x="451.3" y="228.2" font-size="7.6" text-anchor="middle" fill="#333">M</text>
<text x="469.5" y="228.2" font-size="7.6" text-anchor="middle" fill="#333">U</text>
<line x1="298" y1="232.7" x2="327.5" y2="232.7" stroke="#444" stroke-width="1.3"/>
<text x="312.75" y="242.7" font-size="7.6" text-anchor="middle" fill="#333">6</text>
<line x1="335.2" y1="232.7" x2="364.4" y2="232.7" stroke="#444" stroke-width="1.3"/>
<text x="349.8" y="242.7" font-size="7.6" text-anchor="middle" fill="#333">12</text>
<line x1="372.3" y1="232.7" x2="401" y2="232.7" stroke="#444" stroke-width="1.3"/>
<text x="386.65" y="242.7" font-size="7.6" text-anchor="middle" fill="#333">24</text>
<line x1="409.2" y1="232.7" x2="437.8" y2="232.7" stroke="#444" stroke-width="1.3"/>
<text x="423.5" y="242.7" font-size="7.6" text-anchor="middle" fill="#333">36</text>
<line x1="446.3" y1="232.7" x2="475" y2="232.7" stroke="#444" stroke-width="1.3"/>
<text x="460.65" y="242.7" font-size="7.6" text-anchor="middle" fill="#333">48</text>
<text x="8.2" y="269.7" font-size="10" font-weight="bold" stroke="#000" stroke-width="0.22" fill="#000">C</text>
<text x="102.7" y="279.9" font-size="9.4" text-anchor="middle" font-weight="bold" stroke="#111" stroke-width="0.22" fill="#111">24 months</text>
<line x1="40.3" y1="293.8" x2="40.3" y2="422.8" stroke="#000" stroke-width="1.3"/>
<line x1="39.7" y1="422.2" x2="169.5" y2="422.2" stroke="#000" stroke-width="1.3"/>
<line x1="37.3" y1="296.3" x2="40.3" y2="296.3" stroke="#000" stroke-width="1"/>
<text x="34.7" y="298.9" font-size="7.8" text-anchor="end" fill="#333">10<tspan dy="-3" font-size="5.4">0</tspan></text>
<line x1="38.7" y1="310.87" x2="40.3" y2="310.87" stroke="#000" stroke-width="0.6"/>
<line x1="38.7" y1="307.2" x2="40.3" y2="307.2" stroke="#000" stroke-width="0.6"/>
<line x1="38.7" y1="304.6" x2="40.3" y2="304.6" stroke="#000" stroke-width="0.6"/>
<line x1="38.7" y1="302.58" x2="40.3" y2="302.58" stroke="#000" stroke-width="0.6"/>
<line x1="38.7" y1="300.93" x2="40.3" y2="300.93" stroke="#000" stroke-width="0.6"/>
<line x1="38.7" y1="299.53" x2="40.3" y2="299.53" stroke="#000" stroke-width="0.6"/>
<line x1="38.7" y1="298.32" x2="40.3" y2="298.32" stroke="#000" stroke-width="0.6"/>
<line x1="38.7" y1="297.25" x2="40.3" y2="297.25" stroke="#000" stroke-width="0.6"/>
<line x1="37.3" y1="317.15" x2="40.3" y2="317.15" stroke="#000" stroke-width="1"/>
<text x="34.7" y="319.75" font-size="7.8" text-anchor="end" fill="#333">10<tspan dy="-3" font-size="5.4">-1</tspan></text>
<line x1="38.7" y1="331.72" x2="40.3" y2="331.72" stroke="#000" stroke-width="0.6"/>
<line x1="38.7" y1="328.05" x2="40.3" y2="328.05" stroke="#000" stroke-width="0.6"/>
<line x1="38.7" y1="325.45" x2="40.3" y2="325.45" stroke="#000" stroke-width="0.6"/>
<line x1="38.7" y1="323.43" x2="40.3" y2="323.43" stroke="#000" stroke-width="0.6"/>
<line x1="38.7" y1="321.78" x2="40.3" y2="321.78" stroke="#000" stroke-width="0.6"/>
<line x1="38.7" y1="320.38" x2="40.3" y2="320.38" stroke="#000" stroke-width="0.6"/>
<line x1="38.7" y1="319.17" x2="40.3" y2="319.17" stroke="#000" stroke-width="0.6"/>
<line x1="38.7" y1="318.1" x2="40.3" y2="318.1" stroke="#000" stroke-width="0.6"/>
<line x1="37.3" y1="338" x2="40.3" y2="338" stroke="#000" stroke-width="1"/>
<text x="34.7" y="340.6" font-size="7.8" text-anchor="end" fill="#333">10<tspan dy="-3" font-size="5.4">-2</tspan></text>
<line x1="38.7" y1="352.57" x2="40.3" y2="352.57" stroke="#000" stroke-width="0.6"/>
<line x1="38.7" y1="348.9" x2="40.3" y2="348.9" stroke="#000" stroke-width="0.6"/>
<line x1="38.7" y1="346.3" x2="40.3" y2="346.3" stroke="#000" stroke-width="0.6"/>
<line x1="38.7" y1="344.28" x2="40.3" y2="344.28" stroke="#000" stroke-width="0.6"/>
<line x1="38.7" y1="342.63" x2="40.3" y2="342.63" stroke="#000" stroke-width="0.6"/>
<line x1="38.7" y1="341.23" x2="40.3" y2="341.23" stroke="#000" stroke-width="0.6"/>
<line x1="38.7" y1="340.02" x2="40.3" y2="340.02" stroke="#000" stroke-width="0.6"/>
<line x1="38.7" y1="338.95" x2="40.3" y2="338.95" stroke="#000" stroke-width="0.6"/>
<line x1="37.3" y1="358.85" x2="40.3" y2="358.85" stroke="#000" stroke-width="1"/>
<text x="34.7" y="361.45" font-size="7.8" text-anchor="end" fill="#333">10<tspan dy="-3" font-size="5.4">-3</tspan></text>
<line x1="38.7" y1="373.42" x2="40.3" y2="373.42" stroke="#000" stroke-width="0.6"/>
<line x1="38.7" y1="369.75" x2="40.3" y2="369.75" stroke="#000" stroke-width="0.6"/>
<line x1="38.7" y1="367.15" x2="40.3" y2="367.15" stroke="#000" stroke-width="0.6"/>
<line x1="38.7" y1="365.13" x2="40.3" y2="365.13" stroke="#000" stroke-width="0.6"/>
<line x1="38.7" y1="363.48" x2="40.3" y2="363.48" stroke="#000" stroke-width="0.6"/>
<line x1="38.7" y1="362.08" x2="40.3" y2="362.08" stroke="#000" stroke-width="0.6"/>
<line x1="38.7" y1="360.87" x2="40.3" y2="360.87" stroke="#000" stroke-width="0.6"/>
<line x1="38.7" y1="359.8" x2="40.3" y2="359.8" stroke="#000" stroke-width="0.6"/>
<line x1="37.3" y1="379.7" x2="40.3" y2="379.7" stroke="#000" stroke-width="1"/>
<text x="34.7" y="382.3" font-size="7.8" text-anchor="end" fill="#333">10<tspan dy="-3" font-size="5.4">-4</tspan></text>
<line x1="38.7" y1="394.27" x2="40.3" y2="394.27" stroke="#000" stroke-width="0.6"/>
<line x1="38.7" y1="390.6" x2="40.3" y2="390.6" stroke="#000" stroke-width="0.6"/>
<line x1="38.7" y1="388" x2="40.3" y2="388" stroke="#000" stroke-width="0.6"/>
<line x1="38.7" y1="385.98" x2="40.3" y2="385.98" stroke="#000" stroke-width="0.6"/>
<line x1="38.7" y1="384.33" x2="40.3" y2="384.33" stroke="#000" stroke-width="0.6"/>
<line x1="38.7" y1="382.93" x2="40.3" y2="382.93" stroke="#000" stroke-width="0.6"/>
<line x1="38.7" y1="381.72" x2="40.3" y2="381.72" stroke="#000" stroke-width="0.6"/>
<line x1="38.7" y1="380.65" x2="40.3" y2="380.65" stroke="#000" stroke-width="0.6"/>
<line x1="37.3" y1="400.55" x2="40.3" y2="400.55" stroke="#000" stroke-width="1"/>
<text x="34.7" y="403.15" font-size="7.8" text-anchor="end" fill="#333">10<tspan dy="-3" font-size="5.4">-5</tspan></text>
<line x1="38.7" y1="415.12" x2="40.3" y2="415.12" stroke="#000" stroke-width="0.6"/>
<line x1="38.7" y1="411.45" x2="40.3" y2="411.45" stroke="#000" stroke-width="0.6"/>
<line x1="38.7" y1="408.85" x2="40.3" y2="408.85" stroke="#000" stroke-width="0.6"/>
<line x1="38.7" y1="406.83" x2="40.3" y2="406.83" stroke="#000" stroke-width="0.6"/>
<line x1="38.7" y1="405.18" x2="40.3" y2="405.18" stroke="#000" stroke-width="0.6"/>
<line x1="38.7" y1="403.78" x2="40.3" y2="403.78" stroke="#000" stroke-width="0.6"/>
<line x1="38.7" y1="402.57" x2="40.3" y2="402.57" stroke="#000" stroke-width="0.6"/>
<line x1="38.7" y1="401.5" x2="40.3" y2="401.5" stroke="#000" stroke-width="0.6"/>
<line x1="37.3" y1="421.4" x2="40.3" y2="421.4" stroke="#000" stroke-width="1"/>
<text x="34.7" y="424" font-size="7.8" text-anchor="end" fill="#333">10<tspan dy="-3" font-size="5.4">-6</tspan></text>
<line x1="165.9" y1="422.2" x2="165.9" y2="425.2" stroke="#000" stroke-width="1"/>
<text x="166.4" y="437" font-size="7.8" text-anchor="middle" fill="#333">10<tspan dy="-3" font-size="5.4">0</tspan></text>
<line x1="145" y1="422.2" x2="145" y2="425.2" stroke="#000" stroke-width="1"/>
<text x="145.5" y="437" font-size="7.8" text-anchor="middle" fill="#333">10<tspan dy="-3" font-size="5.4">-1</tspan></text>
<line x1="151.29" y1="422.2" x2="151.29" y2="423.8" stroke="#000" stroke-width="0.6"/>
<line x1="154.97" y1="422.2" x2="154.97" y2="423.8" stroke="#000" stroke-width="0.6"/>
<line x1="157.58" y1="422.2" x2="157.58" y2="423.8" stroke="#000" stroke-width="0.6"/>
<line x1="159.61" y1="422.2" x2="159.61" y2="423.8" stroke="#000" stroke-width="0.6"/>
<line x1="161.26" y1="422.2" x2="161.26" y2="423.8" stroke="#000" stroke-width="0.6"/>
<line x1="162.66" y1="422.2" x2="162.66" y2="423.8" stroke="#000" stroke-width="0.6"/>
<line x1="163.87" y1="422.2" x2="163.87" y2="423.8" stroke="#000" stroke-width="0.6"/>
<line x1="164.94" y1="422.2" x2="164.94" y2="423.8" stroke="#000" stroke-width="0.6"/>
<line x1="124.1" y1="422.2" x2="124.1" y2="425.2" stroke="#000" stroke-width="1"/>
<text x="124.6" y="437" font-size="7.8" text-anchor="middle" fill="#333">10<tspan dy="-3" font-size="5.4">-2</tspan></text>
<line x1="130.39" y1="422.2" x2="130.39" y2="423.8" stroke="#000" stroke-width="0.6"/>
<line x1="134.07" y1="422.2" x2="134.07" y2="423.8" stroke="#000" stroke-width="0.6"/>
<line x1="136.68" y1="422.2" x2="136.68" y2="423.8" stroke="#000" stroke-width="0.6"/>
<line x1="138.71" y1="422.2" x2="138.71" y2="423.8" stroke="#000" stroke-width="0.6"/>
<line x1="140.36" y1="422.2" x2="140.36" y2="423.8" stroke="#000" stroke-width="0.6"/>
<line x1="141.76" y1="422.2" x2="141.76" y2="423.8" stroke="#000" stroke-width="0.6"/>
<line x1="142.97" y1="422.2" x2="142.97" y2="423.8" stroke="#000" stroke-width="0.6"/>
<line x1="144.04" y1="422.2" x2="144.04" y2="423.8" stroke="#000" stroke-width="0.6"/>
<line x1="103.2" y1="422.2" x2="103.2" y2="425.2" stroke="#000" stroke-width="1"/>
<text x="103.7" y="437" font-size="7.8" text-anchor="middle" fill="#333">10<tspan dy="-3" font-size="5.4">-3</tspan></text>
<line x1="109.49" y1="422.2" x2="109.49" y2="423.8" stroke="#000" stroke-width="0.6"/>
<line x1="113.17" y1="422.2" x2="113.17" y2="423.8" stroke="#000" stroke-width="0.6"/>
<line x1="115.78" y1="422.2" x2="115.78" y2="423.8" stroke="#000" stroke-width="0.6"/>
<line x1="117.81" y1="422.2" x2="117.81" y2="423.8" stroke="#000" stroke-width="0.6"/>
<line x1="119.46" y1="422.2" x2="119.46" y2="423.8" stroke="#000" stroke-width="0.6"/>
<line x1="120.86" y1="422.2" x2="120.86" y2="423.8" stroke="#000" stroke-width="0.6"/>
<line x1="122.07" y1="422.2" x2="122.07" y2="423.8" stroke="#000" stroke-width="0.6"/>
<line x1="123.14" y1="422.2" x2="123.14" y2="423.8" stroke="#000" stroke-width="0.6"/>
<line x1="82.3" y1="422.2" x2="82.3" y2="425.2" stroke="#000" stroke-width="1"/>
<text x="82.8" y="437" font-size="7.8" text-anchor="middle" fill="#333">10<tspan dy="-3" font-size="5.4">-4</tspan></text>
<line x1="88.59" y1="422.2" x2="88.59" y2="423.8" stroke="#000" stroke-width="0.6"/>
<line x1="92.27" y1="422.2" x2="92.27" y2="423.8" stroke="#000" stroke-width="0.6"/>
<line x1="94.88" y1="422.2" x2="94.88" y2="423.8" stroke="#000" stroke-width="0.6"/>
<line x1="96.91" y1="422.2" x2="96.91" y2="423.8" stroke="#000" stroke-width="0.6"/>
<line x1="98.56" y1="422.2" x2="98.56" y2="423.8" stroke="#000" stroke-width="0.6"/>
<line x1="99.96" y1="422.2" x2="99.96" y2="423.8" stroke="#000" stroke-width="0.6"/>
<line x1="101.17" y1="422.2" x2="101.17" y2="423.8" stroke="#000" stroke-width="0.6"/>
<line x1="102.24" y1="422.2" x2="102.24" y2="423.8" stroke="#000" stroke-width="0.6"/>
<line x1="61.4" y1="422.2" x2="61.4" y2="425.2" stroke="#000" stroke-width="1"/>
<text x="61.9" y="437" font-size="7.8" text-anchor="middle" fill="#333">10<tspan dy="-3" font-size="5.4">-5</tspan></text>
<line x1="67.69" y1="422.2" x2="67.69" y2="423.8" stroke="#000" stroke-width="0.6"/>
<line x1="71.37" y1="422.2" x2="71.37" y2="423.8" stroke="#000" stroke-width="0.6"/>
<line x1="73.98" y1="422.2" x2="73.98" y2="423.8" stroke="#000" stroke-width="0.6"/>
<line x1="76.01" y1="422.2" x2="76.01" y2="423.8" stroke="#000" stroke-width="0.6"/>
<line x1="77.66" y1="422.2" x2="77.66" y2="423.8" stroke="#000" stroke-width="0.6"/>
<line x1="79.06" y1="422.2" x2="79.06" y2="423.8" stroke="#000" stroke-width="0.6"/>
<line x1="80.27" y1="422.2" x2="80.27" y2="423.8" stroke="#000" stroke-width="0.6"/>
<line x1="81.34" y1="422.2" x2="81.34" y2="423.8" stroke="#000" stroke-width="0.6"/>
<line x1="40.5" y1="422.2" x2="40.5" y2="425.2" stroke="#000" stroke-width="1"/>
<text x="41" y="437" font-size="7.8" text-anchor="middle" fill="#333">10<tspan dy="-3" font-size="5.4">-6</tspan></text>
<line x1="46.79" y1="422.2" x2="46.79" y2="423.8" stroke="#000" stroke-width="0.6"/>
<line x1="50.47" y1="422.2" x2="50.47" y2="423.8" stroke="#000" stroke-width="0.6"/>
<line x1="53.08" y1="422.2" x2="53.08" y2="423.8" stroke="#000" stroke-width="0.6"/>
<line x1="55.11" y1="422.2" x2="55.11" y2="423.8" stroke="#000" stroke-width="0.6"/>
<line x1="56.76" y1="422.2" x2="56.76" y2="423.8" stroke="#000" stroke-width="0.6"/>
<line x1="58.16" y1="422.2" x2="58.16" y2="423.8" stroke="#000" stroke-width="0.6"/>
<line x1="59.37" y1="422.2" x2="59.37" y2="423.8" stroke="#000" stroke-width="0.6"/>
<line x1="60.44" y1="422.2" x2="60.44" y2="423.8" stroke="#000" stroke-width="0.6"/>
<text x="105.3" y="449.2" font-size="7.6" text-anchor="middle" fill="#333">PB</text>
<text transform="translate(15.3,358) rotate(-90)" font-size="7.4" text-anchor="middle" fill="#333">BM</text>
<path d="M135.7 297.1L137.6 299L135.7 300.9L133.8 299Z" fill="#8c1236"/>
<path d="M150.7 300.6L152.6 302.5L150.7 304.4L148.8 302.5Z" fill="#8c1236"/>
<path d="M163.7 300.2L165.6 302.1L163.7 304L161.8 302.1Z" fill="#8c1236"/>
<path d="M128.3 309.2L130.2 311.1L128.3 313L126.4 311.1Z" fill="#8c1236"/>
<path d="M127.4 314.4L129.3 316.3L127.4 318.2L125.5 316.3Z" fill="#8c1236"/>
<path d="M126.5 317.5L128.4 319.4L126.5 321.3L124.6 319.4Z" fill="#8c1236"/>
<path d="M129.1 317.5L131 319.4L129.1 321.3L127.2 319.4Z" fill="#8c1236"/>
<path d="M123.9 321.3L125.8 323.2L123.9 325.1L122 323.2Z" fill="#8c1236"/>
<path d="M123.4 327.5L125.3 329.4L123.4 331.3L121.5 329.4Z" fill="#8c1236"/>
<path d="M129.1 330.5L131 332.4L129.1 334.3L127.2 332.4Z" fill="#8c1236"/>
<path d="M123.4 335.7L125.3 337.6L123.4 339.5L121.5 337.6Z" fill="#8c1236"/>
<path d="M130.8 336L132.7 337.9L130.8 339.8L128.9 337.9Z" fill="#8c1236"/>
<path d="M137.8 336.2L139.7 338.1L137.8 340L135.9 338.1Z" fill="#8c1236"/>
<path d="M128.3 340.3L130.2 342.2L128.3 344.1L126.4 342.2Z" fill="#8c1236"/>
<path d="M116.5 343.1L118.4 345L116.5 346.9L114.6 345Z" fill="#8c1236"/>
<path d="M116.1 349.2L118 351.1L116.1 353L114.2 351.1Z" fill="#8c1236"/>
<path d="M120.1 349L122 350.9L120.1 352.8L118.2 350.9Z" fill="#8c1236"/>
<path d="M92.3 347.3L94.2 349.2L92.3 351.1L90.4 349.2Z" fill="#8c1236"/>
<path d="M100.6 358.5L102.5 360.4L100.6 362.3L98.7 360.4Z" fill="#8c1236"/>
<path d="M151 300.8L152.9 302.7L151 304.6L149.1 302.7Z" fill="#8c1236"/>
<path d="M157.2 304.5L159.1 306.4L157.2 308.3L155.3 306.4Z" fill="#8c1236"/>
<path d="M145.1 305.9L147 307.8L145.1 309.7L143.2 307.8Z" fill="#8c1236"/>
<path d="M146.8 305.5L148.7 307.4L146.8 309.3L144.9 307.4Z" fill="#8c1236"/>
<path d="M150.1 306.9L152 308.8L150.1 310.7L148.2 308.8Z" fill="#8c1236"/>
<path d="M142.1 309.3L144 311.2L142.1 313.1L140.2 311.2Z" fill="#8c1236"/>
<path d="M154.5 308.6L156.4 310.5L154.5 312.4L152.6 310.5Z" fill="#8c1236"/>
<path d="M160.6 307.6L162.5 309.5L160.6 311.4L158.7 309.5Z" fill="#8c1236"/>
<path d="M161.6 309.6L163.5 311.5L161.6 313.4L159.7 311.5Z" fill="#8c1236"/>
<path d="M158.6 308.6L160.5 310.5L158.6 312.4L156.7 310.5Z" fill="#8c1236"/>
<path d="M149.1 310.9L151 312.8L149.1 314.7L147.2 312.8Z" fill="#8c1236"/>
<path d="M145.8 312.6L147.7 314.5L145.8 316.4L143.9 314.5Z" fill="#8c1236"/>
<path d="M150.1 313.3L152 315.2L150.1 317.1L148.2 315.2Z" fill="#8c1236"/>
<path d="M155.2 311.6L157.1 313.5L155.2 315.4L153.3 313.5Z" fill="#8c1236"/>
<path d="M141.4 314.6L143.3 316.5L141.4 318.4L139.5 316.5Z" fill="#8c1236"/>
<path d="M146.4 314.6L148.3 316.5L146.4 318.4L144.5 316.5Z" fill="#8c1236"/>
<path d="M148.5 315.3L150.4 317.2L148.5 319.1L146.6 317.2Z" fill="#8c1236"/>
<path d="M154.2 315.3L156.1 317.2L154.2 319.1L152.3 317.2Z" fill="#8c1236"/>
<path d="M156.5 316.7L158.4 318.6L156.5 320.5L154.6 318.6Z" fill="#8c1236"/>
<path d="M145.1 317.3L147 319.2L145.1 321.1L143.2 319.2Z" fill="#8c1236"/>
<path d="M148.1 319.3L150 321.2L148.1 323.1L146.2 321.2Z" fill="#8c1236"/>
<path d="M157.9 318.3L159.8 320.2L157.9 322.1L156 320.2Z" fill="#8c1236"/>
<path d="M155.9 318.7L157.8 320.6L155.9 322.5L154 320.6Z" fill="#8c1236"/>
<path d="M143.7 321.7L145.6 323.6L143.7 325.5L141.8 323.6Z" fill="#8c1236"/>
<path d="M145.4 322.7L147.3 324.6L145.4 326.5L143.5 324.6Z" fill="#8c1236"/>
<path d="M153.2 322.7L155.1 324.6L153.2 326.5L151.3 324.6Z" fill="#8c1236"/>
<path d="M150.5 309.6L152.4 311.5L150.5 313.4L148.6 311.5Z" fill="#8c1236"/>
<path d="M152.3 312.4L154.2 314.3L152.3 316.2L150.4 314.3Z" fill="#8c1236"/>
<path d="M147.3 310.4L149.2 312.3L147.3 314.2L145.4 312.3Z" fill="#8c1236"/>
<path d="M158.4 306.4L160.3 308.3L158.4 310.2L156.5 308.3Z" fill="#8c1236"/>
<path d="M153 318.5L154.9 320.4L153 322.3L151.1 320.4Z" fill="#8c1236"/>
<path d="M150.4 317.3L152.3 319.2L150.4 321.1L148.5 319.2Z" fill="#8c1236"/>
<path d="M157.4 321.1L159.3 323L157.4 324.9L155.5 323Z" fill="#8c1236"/>
<text x="177.9" y="269.7" font-size="10" font-weight="bold" stroke="#000" stroke-width="0.22" fill="#000">D</text>
<text x="272.4" y="279.9" font-size="9.4" text-anchor="middle" font-weight="bold" stroke="#111" stroke-width="0.22" fill="#111">36 months</text>
<line x1="210" y1="293.8" x2="210" y2="422.8" stroke="#000" stroke-width="1.3"/>
<line x1="209.4" y1="422.2" x2="339.2" y2="422.2" stroke="#000" stroke-width="1.3"/>
<line x1="207" y1="296.3" x2="210" y2="296.3" stroke="#000" stroke-width="1"/>
<text x="204.4" y="298.9" font-size="7.8" text-anchor="end" fill="#333">10<tspan dy="-3" font-size="5.4">0</tspan></text>
<line x1="208.4" y1="310.87" x2="210" y2="310.87" stroke="#000" stroke-width="0.6"/>
<line x1="208.4" y1="307.2" x2="210" y2="307.2" stroke="#000" stroke-width="0.6"/>
<line x1="208.4" y1="304.6" x2="210" y2="304.6" stroke="#000" stroke-width="0.6"/>
<line x1="208.4" y1="302.58" x2="210" y2="302.58" stroke="#000" stroke-width="0.6"/>
<line x1="208.4" y1="300.93" x2="210" y2="300.93" stroke="#000" stroke-width="0.6"/>
<line x1="208.4" y1="299.53" x2="210" y2="299.53" stroke="#000" stroke-width="0.6"/>
<line x1="208.4" y1="298.32" x2="210" y2="298.32" stroke="#000" stroke-width="0.6"/>
<line x1="208.4" y1="297.25" x2="210" y2="297.25" stroke="#000" stroke-width="0.6"/>
<line x1="207" y1="317.15" x2="210" y2="317.15" stroke="#000" stroke-width="1"/>
<text x="204.4" y="319.75" font-size="7.8" text-anchor="end" fill="#333">10<tspan dy="-3" font-size="5.4">-1</tspan></text>
<line x1="208.4" y1="331.72" x2="210" y2="331.72" stroke="#000" stroke-width="0.6"/>
<line x1="208.4" y1="328.05" x2="210" y2="328.05" stroke="#000" stroke-width="0.6"/>
<line x1="208.4" y1="325.45" x2="210" y2="325.45" stroke="#000" stroke-width="0.6"/>
<line x1="208.4" y1="323.43" x2="210" y2="323.43" stroke="#000" stroke-width="0.6"/>
<line x1="208.4" y1="321.78" x2="210" y2="321.78" stroke="#000" stroke-width="0.6"/>
<line x1="208.4" y1="320.38" x2="210" y2="320.38" stroke="#000" stroke-width="0.6"/>
<line x1="208.4" y1="319.17" x2="210" y2="319.17" stroke="#000" stroke-width="0.6"/>
<line x1="208.4" y1="318.1" x2="210" y2="318.1" stroke="#000" stroke-width="0.6"/>
<line x1="207" y1="338" x2="210" y2="338" stroke="#000" stroke-width="1"/>
<text x="204.4" y="340.6" font-size="7.8" text-anchor="end" fill="#333">10<tspan dy="-3" font-size="5.4">-2</tspan></text>
<line x1="208.4" y1="352.57" x2="210" y2="352.57" stroke="#000" stroke-width="0.6"/>
<line x1="208.4" y1="348.9" x2="210" y2="348.9" stroke="#000" stroke-width="0.6"/>
<line x1="208.4" y1="346.3" x2="210" y2="346.3" stroke="#000" stroke-width="0.6"/>
<line x1="208.4" y1="344.28" x2="210" y2="344.28" stroke="#000" stroke-width="0.6"/>
<line x1="208.4" y1="342.63" x2="210" y2="342.63" stroke="#000" stroke-width="0.6"/>
<line x1="208.4" y1="341.23" x2="210" y2="341.23" stroke="#000" stroke-width="0.6"/>
<line x1="208.4" y1="340.02" x2="210" y2="340.02" stroke="#000" stroke-width="0.6"/>
<line x1="208.4" y1="338.95" x2="210" y2="338.95" stroke="#000" stroke-width="0.6"/>
<line x1="207" y1="358.85" x2="210" y2="358.85" stroke="#000" stroke-width="1"/>
<text x="204.4" y="361.45" font-size="7.8" text-anchor="end" fill="#333">10<tspan dy="-3" font-size="5.4">-3</tspan></text>
<line x1="208.4" y1="373.42" x2="210" y2="373.42" stroke="#000" stroke-width="0.6"/>
<line x1="208.4" y1="369.75" x2="210" y2="369.75" stroke="#000" stroke-width="0.6"/>
<line x1="208.4" y1="367.15" x2="210" y2="367.15" stroke="#000" stroke-width="0.6"/>
<line x1="208.4" y1="365.13" x2="210" y2="365.13" stroke="#000" stroke-width="0.6"/>
<line x1="208.4" y1="363.48" x2="210" y2="363.48" stroke="#000" stroke-width="0.6"/>
<line x1="208.4" y1="362.08" x2="210" y2="362.08" stroke="#000" stroke-width="0.6"/>
<line x1="208.4" y1="360.87" x2="210" y2="360.87" stroke="#000" stroke-width="0.6"/>
<line x1="208.4" y1="359.8" x2="210" y2="359.8" stroke="#000" stroke-width="0.6"/>
<line x1="207" y1="379.7" x2="210" y2="379.7" stroke="#000" stroke-width="1"/>
<text x="204.4" y="382.3" font-size="7.8" text-anchor="end" fill="#333">10<tspan dy="-3" font-size="5.4">-4</tspan></text>
<line x1="208.4" y1="394.27" x2="210" y2="394.27" stroke="#000" stroke-width="0.6"/>
<line x1="208.4" y1="390.6" x2="210" y2="390.6" stroke="#000" stroke-width="0.6"/>
<line x1="208.4" y1="388" x2="210" y2="388" stroke="#000" stroke-width="0.6"/>
<line x1="208.4" y1="385.98" x2="210" y2="385.98" stroke="#000" stroke-width="0.6"/>
<line x1="208.4" y1="384.33" x2="210" y2="384.33" stroke="#000" stroke-width="0.6"/>
<line x1="208.4" y1="382.93" x2="210" y2="382.93" stroke="#000" stroke-width="0.6"/>
<line x1="208.4" y1="381.72" x2="210" y2="381.72" stroke="#000" stroke-width="0.6"/>
<line x1="208.4" y1="380.65" x2="210" y2="380.65" stroke="#000" stroke-width="0.6"/>
<line x1="207" y1="400.55" x2="210" y2="400.55" stroke="#000" stroke-width="1"/>
<text x="204.4" y="403.15" font-size="7.8" text-anchor="end" fill="#333">10<tspan dy="-3" font-size="5.4">-5</tspan></text>
<line x1="208.4" y1="415.12" x2="210" y2="415.12" stroke="#000" stroke-width="0.6"/>
<line x1="208.4" y1="411.45" x2="210" y2="411.45" stroke="#000" stroke-width="0.6"/>
<line x1="208.4" y1="408.85" x2="210" y2="408.85" stroke="#000" stroke-width="0.6"/>
<line x1="208.4" y1="406.83" x2="210" y2="406.83" stroke="#000" stroke-width="0.6"/>
<line x1="208.4" y1="405.18" x2="210" y2="405.18" stroke="#000" stroke-width="0.6"/>
<line x1="208.4" y1="403.78" x2="210" y2="403.78" stroke="#000" stroke-width="0.6"/>
<line x1="208.4" y1="402.57" x2="210" y2="402.57" stroke="#000" stroke-width="0.6"/>
<line x1="208.4" y1="401.5" x2="210" y2="401.5" stroke="#000" stroke-width="0.6"/>
<line x1="207" y1="421.4" x2="210" y2="421.4" stroke="#000" stroke-width="1"/>
<text x="204.4" y="424" font-size="7.8" text-anchor="end" fill="#333">10<tspan dy="-3" font-size="5.4">-6</tspan></text>
<line x1="335.6" y1="422.2" x2="335.6" y2="425.2" stroke="#000" stroke-width="1"/>
<text x="336.1" y="437" font-size="7.8" text-anchor="middle" fill="#333">10<tspan dy="-3" font-size="5.4">0</tspan></text>
<line x1="314.7" y1="422.2" x2="314.7" y2="425.2" stroke="#000" stroke-width="1"/>
<text x="315.2" y="437" font-size="7.8" text-anchor="middle" fill="#333">10<tspan dy="-3" font-size="5.4">-1</tspan></text>
<line x1="320.99" y1="422.2" x2="320.99" y2="423.8" stroke="#000" stroke-width="0.6"/>
<line x1="324.67" y1="422.2" x2="324.67" y2="423.8" stroke="#000" stroke-width="0.6"/>
<line x1="327.28" y1="422.2" x2="327.28" y2="423.8" stroke="#000" stroke-width="0.6"/>
<line x1="329.31" y1="422.2" x2="329.31" y2="423.8" stroke="#000" stroke-width="0.6"/>
<line x1="330.96" y1="422.2" x2="330.96" y2="423.8" stroke="#000" stroke-width="0.6"/>
<line x1="332.36" y1="422.2" x2="332.36" y2="423.8" stroke="#000" stroke-width="0.6"/>
<line x1="333.57" y1="422.2" x2="333.57" y2="423.8" stroke="#000" stroke-width="0.6"/>
<line x1="334.64" y1="422.2" x2="334.64" y2="423.8" stroke="#000" stroke-width="0.6"/>
<line x1="293.8" y1="422.2" x2="293.8" y2="425.2" stroke="#000" stroke-width="1"/>
<text x="294.3" y="437" font-size="7.8" text-anchor="middle" fill="#333">10<tspan dy="-3" font-size="5.4">-2</tspan></text>
<line x1="300.09" y1="422.2" x2="300.09" y2="423.8" stroke="#000" stroke-width="0.6"/>
<line x1="303.77" y1="422.2" x2="303.77" y2="423.8" stroke="#000" stroke-width="0.6"/>
<line x1="306.38" y1="422.2" x2="306.38" y2="423.8" stroke="#000" stroke-width="0.6"/>
<line x1="308.41" y1="422.2" x2="308.41" y2="423.8" stroke="#000" stroke-width="0.6"/>
<line x1="310.06" y1="422.2" x2="310.06" y2="423.8" stroke="#000" stroke-width="0.6"/>
<line x1="311.46" y1="422.2" x2="311.46" y2="423.8" stroke="#000" stroke-width="0.6"/>
<line x1="312.67" y1="422.2" x2="312.67" y2="423.8" stroke="#000" stroke-width="0.6"/>
<line x1="313.74" y1="422.2" x2="313.74" y2="423.8" stroke="#000" stroke-width="0.6"/>
<line x1="272.9" y1="422.2" x2="272.9" y2="425.2" stroke="#000" stroke-width="1"/>
<text x="273.4" y="437" font-size="7.8" text-anchor="middle" fill="#333">10<tspan dy="-3" font-size="5.4">-3</tspan></text>
<line x1="279.19" y1="422.2" x2="279.19" y2="423.8" stroke="#000" stroke-width="0.6"/>
<line x1="282.87" y1="422.2" x2="282.87" y2="423.8" stroke="#000" stroke-width="0.6"/>
<line x1="285.48" y1="422.2" x2="285.48" y2="423.8" stroke="#000" stroke-width="0.6"/>
<line x1="287.51" y1="422.2" x2="287.51" y2="423.8" stroke="#000" stroke-width="0.6"/>
<line x1="289.16" y1="422.2" x2="289.16" y2="423.8" stroke="#000" stroke-width="0.6"/>
<line x1="290.56" y1="422.2" x2="290.56" y2="423.8" stroke="#000" stroke-width="0.6"/>
<line x1="291.77" y1="422.2" x2="291.77" y2="423.8" stroke="#000" stroke-width="0.6"/>
<line x1="292.84" y1="422.2" x2="292.84" y2="423.8" stroke="#000" stroke-width="0.6"/>
<line x1="252" y1="422.2" x2="252" y2="425.2" stroke="#000" stroke-width="1"/>
<text x="252.5" y="437" font-size="7.8" text-anchor="middle" fill="#333">10<tspan dy="-3" font-size="5.4">-4</tspan></text>
<line x1="258.29" y1="422.2" x2="258.29" y2="423.8" stroke="#000" stroke-width="0.6"/>
<line x1="261.97" y1="422.2" x2="261.97" y2="423.8" stroke="#000" stroke-width="0.6"/>
<line x1="264.58" y1="422.2" x2="264.58" y2="423.8" stroke="#000" stroke-width="0.6"/>
<line x1="266.61" y1="422.2" x2="266.61" y2="423.8" stroke="#000" stroke-width="0.6"/>
<line x1="268.26" y1="422.2" x2="268.26" y2="423.8" stroke="#000" stroke-width="0.6"/>
<line x1="269.66" y1="422.2" x2="269.66" y2="423.8" stroke="#000" stroke-width="0.6"/>
<line x1="270.87" y1="422.2" x2="270.87" y2="423.8" stroke="#000" stroke-width="0.6"/>
<line x1="271.94" y1="422.2" x2="271.94" y2="423.8" stroke="#000" stroke-width="0.6"/>
<line x1="231.1" y1="422.2" x2="231.1" y2="425.2" stroke="#000" stroke-width="1"/>
<text x="231.6" y="437" font-size="7.8" text-anchor="middle" fill="#333">10<tspan dy="-3" font-size="5.4">-5</tspan></text>
<line x1="237.39" y1="422.2" x2="237.39" y2="423.8" stroke="#000" stroke-width="0.6"/>
<line x1="241.07" y1="422.2" x2="241.07" y2="423.8" stroke="#000" stroke-width="0.6"/>
<line x1="243.68" y1="422.2" x2="243.68" y2="423.8" stroke="#000" stroke-width="0.6"/>
<line x1="245.71" y1="422.2" x2="245.71" y2="423.8" stroke="#000" stroke-width="0.6"/>
<line x1="247.36" y1="422.2" x2="247.36" y2="423.8" stroke="#000" stroke-width="0.6"/>
<line x1="248.76" y1="422.2" x2="248.76" y2="423.8" stroke="#000" stroke-width="0.6"/>
<line x1="249.97" y1="422.2" x2="249.97" y2="423.8" stroke="#000" stroke-width="0.6"/>
<line x1="251.04" y1="422.2" x2="251.04" y2="423.8" stroke="#000" stroke-width="0.6"/>
<line x1="210.2" y1="422.2" x2="210.2" y2="425.2" stroke="#000" stroke-width="1"/>
<text x="210.7" y="437" font-size="7.8" text-anchor="middle" fill="#333">10<tspan dy="-3" font-size="5.4">-6</tspan></text>
<line x1="216.49" y1="422.2" x2="216.49" y2="423.8" stroke="#000" stroke-width="0.6"/>
<line x1="220.17" y1="422.2" x2="220.17" y2="423.8" stroke="#000" stroke-width="0.6"/>
<line x1="222.78" y1="422.2" x2="222.78" y2="423.8" stroke="#000" stroke-width="0.6"/>
<line x1="224.81" y1="422.2" x2="224.81" y2="423.8" stroke="#000" stroke-width="0.6"/>
<line x1="226.46" y1="422.2" x2="226.46" y2="423.8" stroke="#000" stroke-width="0.6"/>
<line x1="227.86" y1="422.2" x2="227.86" y2="423.8" stroke="#000" stroke-width="0.6"/>
<line x1="229.07" y1="422.2" x2="229.07" y2="423.8" stroke="#000" stroke-width="0.6"/>
<line x1="230.14" y1="422.2" x2="230.14" y2="423.8" stroke="#000" stroke-width="0.6"/>
<text x="275" y="449.2" font-size="7.6" text-anchor="middle" fill="#333">PB</text>
<text transform="translate(185,358) rotate(-90)" font-size="7.4" text-anchor="middle" fill="#333">BM</text>
<path d="M328.75 298.35L330.65 300.25L328.75 302.15L326.85 300.25Z" fill="#8c1236"/>
<path d="M330.25 300L332.15 301.9L330.25 303.8L328.35 301.9Z" fill="#8c1236"/>
<path d="M324 302.1L325.9 304L324 305.9L322.1 304Z" fill="#8c1236"/>
<path d="M327.9 303.1L329.8 305L327.9 306.9L326 305Z" fill="#8c1236"/>
<path d="M313.5 304.6L315.4 306.5L313.5 308.4L311.6 306.5Z" fill="#8c1236"/>
<path d="M304 306.2L305.9 308.1L304 310L302.1 308.1Z" fill="#8c1236"/>
<path d="M319 306.2L320.9 308.1L319 310L317.1 308.1Z" fill="#8c1236"/>
<path d="M322.5 305.35L324.4 307.25L322.5 309.15L320.6 307.25Z" fill="#8c1236"/>
<path d="M316.25 308.7L318.15 310.6L316.25 312.5L314.35 310.6Z" fill="#8c1236"/>
<path d="M314.4 310L316.3 311.9L314.4 313.8L312.5 311.9Z" fill="#8c1236"/>
<path d="M328.1 311.2L330 313.1L328.1 315L326.2 313.1Z" fill="#8c1236"/>
<path d="M329.1 314.35L331 316.25L329.1 318.15L327.2 316.25Z" fill="#8c1236"/>
<path d="M321.9 312.5L323.8 314.4L321.9 316.3L320 314.4Z" fill="#8c1236"/>
<path d="M318.1 313.7L320 315.6L318.1 317.5L316.2 315.6Z" fill="#8c1236"/>
<path d="M316.25 315L318.15 316.9L316.25 318.8L314.35 316.9Z" fill="#8c1236"/>
<path d="M312.5 313.1L314.4 315L312.5 316.9L310.6 315Z" fill="#8c1236"/>
<path d="M310 314.35L311.9 316.25L310 318.15L308.1 316.25Z" fill="#8c1236"/>
<path d="M306 314.35L307.9 316.25L306 318.15L304.1 316.25Z" fill="#8c1236"/>
<path d="M292.75 314.1L294.65 316L292.75 317.9L290.85 316Z" fill="#8c1236"/>
<path d="M290.6 317.5L292.5 319.4L290.6 321.3L288.7 319.4Z" fill="#8c1236"/>
<path d="M293.1 320.6L295 322.5L293.1 324.4L291.2 322.5Z" fill="#8c1236"/>
<path d="M296 323.1L297.9 325L296 326.9L294.1 325Z" fill="#8c1236"/>
<path d="M306.25 318.7L308.15 320.6L306.25 322.5L304.35 320.6Z" fill="#8c1236"/>
<path d="M313.5 319.6L315.4 321.5L313.5 323.4L311.6 321.5Z" fill="#8c1236"/>
<path d="M308.1 321.2L310 323.1L308.1 325L306.2 323.1Z" fill="#8c1236"/>
<path d="M308.75 323.1L310.65 325L308.75 326.9L306.85 325Z" fill="#8c1236"/>
<path d="M318.75 320.35L320.65 322.25L318.75 324.15L316.85 322.25Z" fill="#8c1236"/>
<path d="M323.1 318.1L325 320L323.1 321.9L321.2 320Z" fill="#8c1236"/>
<path d="M326.5 319.7L328.4 321.6L326.5 323.5L324.6 321.6Z" fill="#8c1236"/>
<path d="M313.5 324.6L315.4 326.5L313.5 328.4L311.6 326.5Z" fill="#8c1236"/>
<path d="M320.6 324.35L322.5 326.25L320.6 328.15L318.7 326.25Z" fill="#8c1236"/>
<path d="M293.1 328.7L295 330.6L293.1 332.5L291.2 330.6Z" fill="#8c1236"/>
<path d="M298.1 328.35L300 330.25L298.1 332.15L296.2 330.25Z" fill="#8c1236"/>
<path d="M300.4 327.85L302.3 329.75L300.4 331.65L298.5 329.75Z" fill="#8c1236"/>
<path d="M309.4 330.6L311.3 332.5L309.4 334.4L307.5 332.5Z" fill="#8c1236"/>
<path d="M311.25 330.35L313.15 332.25L311.25 334.15L309.35 332.25Z" fill="#8c1236"/>
<path d="M305.6 332.85L307.5 334.75L305.6 336.65L303.7 334.75Z" fill="#8c1236"/>
<path d="M279.1 330.1L281 332L279.1 333.9L277.2 332Z" fill="#8c1236"/>
<path d="M273.1 348.5L275 350.4L273.1 352.3L271.2 350.4Z" fill="#8c1236"/>
<path d="M245.8 362.7L247.7 364.6L245.8 366.5L243.9 364.6Z" fill="#8c1236"/>
<path d="M290.7 364.8L292.6 366.7L290.7 368.6L288.8 366.7Z" fill="#8c1236"/>
<path d="M262.1 376.4L264 378.3L262.1 380.2L260.2 378.3Z" fill="#8c1236"/>
<path d="M257.3 381.9L259.2 383.8L257.3 385.7L255.4 383.8Z" fill="#8c1236"/>
<path d="M264.5 411.9L266.4 413.8L264.5 415.7L262.6 413.8Z" fill="#8c1236"/>
<path d="M297.6 328.7L299.5 330.6L297.6 332.5L295.7 330.6Z" fill="#8c1236"/>
<path d="M295.9 323.2L297.8 325.1L295.9 327L294 325.1Z" fill="#8c1236"/>
<path d="M291.6 319L293.5 320.9L291.6 322.8L289.7 320.9Z" fill="#8c1236"/>
<path d="M318.5 310.4L320.4 312.3L318.5 314.2L316.6 312.3Z" fill="#8c1236"/>
<path d="M325.3 308.3L327.2 310.2L325.3 312.1L323.4 310.2Z" fill="#8c1236"/>
<path d="M310.8 318.4L312.7 320.3L310.8 322.2L308.9 320.3Z" fill="#8c1236"/>
<path d="M316.2 319.3L318.1 321.2L316.2 323.1L314.3 321.2Z" fill="#8c1236"/>
<text x="347.4" y="269.7" font-size="10" font-weight="bold" stroke="#000" stroke-width="0.22" fill="#000">E</text>
<text x="441.9" y="279.9" font-size="9.4" text-anchor="middle" font-weight="bold" stroke="#111" stroke-width="0.22" fill="#111">48 months</text>
<line x1="379.5" y1="293.8" x2="379.5" y2="422.8" stroke="#000" stroke-width="1.3"/>
<line x1="378.9" y1="422.2" x2="508.7" y2="422.2" stroke="#000" stroke-width="1.3"/>
<line x1="376.5" y1="296.3" x2="379.5" y2="296.3" stroke="#000" stroke-width="1"/>
<text x="373.9" y="298.9" font-size="7.8" text-anchor="end" fill="#333">10<tspan dy="-3" font-size="5.4">0</tspan></text>
<line x1="377.9" y1="310.87" x2="379.5" y2="310.87" stroke="#000" stroke-width="0.6"/>
<line x1="377.9" y1="307.2" x2="379.5" y2="307.2" stroke="#000" stroke-width="0.6"/>
<line x1="377.9" y1="304.6" x2="379.5" y2="304.6" stroke="#000" stroke-width="0.6"/>
<line x1="377.9" y1="302.58" x2="379.5" y2="302.58" stroke="#000" stroke-width="0.6"/>
<line x1="377.9" y1="300.93" x2="379.5" y2="300.93" stroke="#000" stroke-width="0.6"/>
<line x1="377.9" y1="299.53" x2="379.5" y2="299.53" stroke="#000" stroke-width="0.6"/>
<line x1="377.9" y1="298.32" x2="379.5" y2="298.32" stroke="#000" stroke-width="0.6"/>
<line x1="377.9" y1="297.25" x2="379.5" y2="297.25" stroke="#000" stroke-width="0.6"/>
<line x1="376.5" y1="317.15" x2="379.5" y2="317.15" stroke="#000" stroke-width="1"/>
<text x="373.9" y="319.75" font-size="7.8" text-anchor="end" fill="#333">10<tspan dy="-3" font-size="5.4">-1</tspan></text>
<line x1="377.9" y1="331.72" x2="379.5" y2="331.72" stroke="#000" stroke-width="0.6"/>
<line x1="377.9" y1="328.05" x2="379.5" y2="328.05" stroke="#000" stroke-width="0.6"/>
<line x1="377.9" y1="325.45" x2="379.5" y2="325.45" stroke="#000" stroke-width="0.6"/>
<line x1="377.9" y1="323.43" x2="379.5" y2="323.43" stroke="#000" stroke-width="0.6"/>
<line x1="377.9" y1="321.78" x2="379.5" y2="321.78" stroke="#000" stroke-width="0.6"/>
<line x1="377.9" y1="320.38" x2="379.5" y2="320.38" stroke="#000" stroke-width="0.6"/>
<line x1="377.9" y1="319.17" x2="379.5" y2="319.17" stroke="#000" stroke-width="0.6"/>
<line x1="377.9" y1="318.1" x2="379.5" y2="318.1" stroke="#000" stroke-width="0.6"/>
<line x1="376.5" y1="338" x2="379.5" y2="338" stroke="#000" stroke-width="1"/>
<text x="373.9" y="340.6" font-size="7.8" text-anchor="end" fill="#333">10<tspan dy="-3" font-size="5.4">-2</tspan></text>
<line x1="377.9" y1="352.57" x2="379.5" y2="352.57" stroke="#000" stroke-width="0.6"/>
<line x1="377.9" y1="348.9" x2="379.5" y2="348.9" stroke="#000" stroke-width="0.6"/>
<line x1="377.9" y1="346.3" x2="379.5" y2="346.3" stroke="#000" stroke-width="0.6"/>
<line x1="377.9" y1="344.28" x2="379.5" y2="344.28" stroke="#000" stroke-width="0.6"/>
<line x1="377.9" y1="342.63" x2="379.5" y2="342.63" stroke="#000" stroke-width="0.6"/>
<line x1="377.9" y1="341.23" x2="379.5" y2="341.23" stroke="#000" stroke-width="0.6"/>
<line x1="377.9" y1="340.02" x2="379.5" y2="340.02" stroke="#000" stroke-width="0.6"/>
<line x1="377.9" y1="338.95" x2="379.5" y2="338.95" stroke="#000" stroke-width="0.6"/>
<line x1="376.5" y1="358.85" x2="379.5" y2="358.85" stroke="#000" stroke-width="1"/>
<text x="373.9" y="361.45" font-size="7.8" text-anchor="end" fill="#333">10<tspan dy="-3" font-size="5.4">-3</tspan></text>
<line x1="377.9" y1="373.42" x2="379.5" y2="373.42" stroke="#000" stroke-width="0.6"/>
<line x1="377.9" y1="369.75" x2="379.5" y2="369.75" stroke="#000" stroke-width="0.6"/>
<line x1="377.9" y1="367.15" x2="379.5" y2="367.15" stroke="#000" stroke-width="0.6"/>
<line x1="377.9" y1="365.13" x2="379.5" y2="365.13" stroke="#000" stroke-width="0.6"/>
<line x1="377.9" y1="363.48" x2="379.5" y2="363.48" stroke="#000" stroke-width="0.6"/>
<line x1="377.9" y1="362.08" x2="379.5" y2="362.08" stroke="#000" stroke-width="0.6"/>
<line x1="377.9" y1="360.87" x2="379.5" y2="360.87" stroke="#000" stroke-width="0.6"/>
<line x1="377.9" y1="359.8" x2="379.5" y2="359.8" stroke="#000" stroke-width="0.6"/>
<line x1="376.5" y1="379.7" x2="379.5" y2="379.7" stroke="#000" stroke-width="1"/>
<text x="373.9" y="382.3" font-size="7.8" text-anchor="end" fill="#333">10<tspan dy="-3" font-size="5.4">-4</tspan></text>
<line x1="377.9" y1="394.27" x2="379.5" y2="394.27" stroke="#000" stroke-width="0.6"/>
<line x1="377.9" y1="390.6" x2="379.5" y2="390.6" stroke="#000" stroke-width="0.6"/>
<line x1="377.9" y1="388" x2="379.5" y2="388" stroke="#000" stroke-width="0.6"/>
<line x1="377.9" y1="385.98" x2="379.5" y2="385.98" stroke="#000" stroke-width="0.6"/>
<line x1="377.9" y1="384.33" x2="379.5" y2="384.33" stroke="#000" stroke-width="0.6"/>
<line x1="377.9" y1="382.93" x2="379.5" y2="382.93" stroke="#000" stroke-width="0.6"/>
<line x1="377.9" y1="381.72" x2="379.5" y2="381.72" stroke="#000" stroke-width="0.6"/>
<line x1="377.9" y1="380.65" x2="379.5" y2="380.65" stroke="#000" stroke-width="0.6"/>
<line x1="376.5" y1="400.55" x2="379.5" y2="400.55" stroke="#000" stroke-width="1"/>
<text x="373.9" y="403.15" font-size="7.8" text-anchor="end" fill="#333">10<tspan dy="-3" font-size="5.4">-5</tspan></text>
<line x1="377.9" y1="415.12" x2="379.5" y2="415.12" stroke="#000" stroke-width="0.6"/>
<line x1="377.9" y1="411.45" x2="379.5" y2="411.45" stroke="#000" stroke-width="0.6"/>
<line x1="377.9" y1="408.85" x2="379.5" y2="408.85" stroke="#000" stroke-width="0.6"/>
<line x1="377.9" y1="406.83" x2="379.5" y2="406.83" stroke="#000" stroke-width="0.6"/>
<line x1="377.9" y1="405.18" x2="379.5" y2="405.18" stroke="#000" stroke-width="0.6"/>
<line x1="377.9" y1="403.78" x2="379.5" y2="403.78" stroke="#000" stroke-width="0.6"/>
<line x1="377.9" y1="402.57" x2="379.5" y2="402.57" stroke="#000" stroke-width="0.6"/>
<line x1="377.9" y1="401.5" x2="379.5" y2="401.5" stroke="#000" stroke-width="0.6"/>
<line x1="376.5" y1="421.4" x2="379.5" y2="421.4" stroke="#000" stroke-width="1"/>
<text x="373.9" y="424" font-size="7.8" text-anchor="end" fill="#333">10<tspan dy="-3" font-size="5.4">-6</tspan></text>
<line x1="505.1" y1="422.2" x2="505.1" y2="425.2" stroke="#000" stroke-width="1"/>
<text x="505.6" y="437" font-size="7.8" text-anchor="middle" fill="#333">10<tspan dy="-3" font-size="5.4">0</tspan></text>
<line x1="484.2" y1="422.2" x2="484.2" y2="425.2" stroke="#000" stroke-width="1"/>
<text x="484.7" y="437" font-size="7.8" text-anchor="middle" fill="#333">10<tspan dy="-3" font-size="5.4">-1</tspan></text>
<line x1="490.49" y1="422.2" x2="490.49" y2="423.8" stroke="#000" stroke-width="0.6"/>
<line x1="494.17" y1="422.2" x2="494.17" y2="423.8" stroke="#000" stroke-width="0.6"/>
<line x1="496.78" y1="422.2" x2="496.78" y2="423.8" stroke="#000" stroke-width="0.6"/>
<line x1="498.81" y1="422.2" x2="498.81" y2="423.8" stroke="#000" stroke-width="0.6"/>
<line x1="500.46" y1="422.2" x2="500.46" y2="423.8" stroke="#000" stroke-width="0.6"/>
<line x1="501.86" y1="422.2" x2="501.86" y2="423.8" stroke="#000" stroke-width="0.6"/>
<line x1="503.07" y1="422.2" x2="503.07" y2="423.8" stroke="#000" stroke-width="0.6"/>
<line x1="504.14" y1="422.2" x2="504.14" y2="423.8" stroke="#000" stroke-width="0.6"/>
<line x1="463.3" y1="422.2" x2="463.3" y2="425.2" stroke="#000" stroke-width="1"/>
<text x="463.8" y="437" font-size="7.8" text-anchor="middle" fill="#333">10<tspan dy="-3" font-size="5.4">-2</tspan></text>
<line x1="469.59" y1="422.2" x2="469.59" y2="423.8" stroke="#000" stroke-width="0.6"/>
<line x1="473.27" y1="422.2" x2="473.27" y2="423.8" stroke="#000" stroke-width="0.6"/>
<line x1="475.88" y1="422.2" x2="475.88" y2="423.8" stroke="#000" stroke-width="0.6"/>
<line x1="477.91" y1="422.2" x2="477.91" y2="423.8" stroke="#000" stroke-width="0.6"/>
<line x1="479.56" y1="422.2" x2="479.56" y2="423.8" stroke="#000" stroke-width="0.6"/>
<line x1="480.96" y1="422.2" x2="480.96" y2="423.8" stroke="#000" stroke-width="0.6"/>
<line x1="482.17" y1="422.2" x2="482.17" y2="423.8" stroke="#000" stroke-width="0.6"/>
<line x1="483.24" y1="422.2" x2="483.24" y2="423.8" stroke="#000" stroke-width="0.6"/>
<line x1="442.4" y1="422.2" x2="442.4" y2="425.2" stroke="#000" stroke-width="1"/>
<text x="442.9" y="437" font-size="7.8" text-anchor="middle" fill="#333">10<tspan dy="-3" font-size="5.4">-3</tspan></text>
<line x1="448.69" y1="422.2" x2="448.69" y2="423.8" stroke="#000" stroke-width="0.6"/>
<line x1="452.37" y1="422.2" x2="452.37" y2="423.8" stroke="#000" stroke-width="0.6"/>
<line x1="454.98" y1="422.2" x2="454.98" y2="423.8" stroke="#000" stroke-width="0.6"/>
<line x1="457.01" y1="422.2" x2="457.01" y2="423.8" stroke="#000" stroke-width="0.6"/>
<line x1="458.66" y1="422.2" x2="458.66" y2="423.8" stroke="#000" stroke-width="0.6"/>
<line x1="460.06" y1="422.2" x2="460.06" y2="423.8" stroke="#000" stroke-width="0.6"/>
<line x1="461.27" y1="422.2" x2="461.27" y2="423.8" stroke="#000" stroke-width="0.6"/>
<line x1="462.34" y1="422.2" x2="462.34" y2="423.8" stroke="#000" stroke-width="0.6"/>
<line x1="421.5" y1="422.2" x2="421.5" y2="425.2" stroke="#000" stroke-width="1"/>
<text x="422" y="437" font-size="7.8" text-anchor="middle" fill="#333">10<tspan dy="-3" font-size="5.4">-4</tspan></text>
<line x1="427.79" y1="422.2" x2="427.79" y2="423.8" stroke="#000" stroke-width="0.6"/>
<line x1="431.47" y1="422.2" x2="431.47" y2="423.8" stroke="#000" stroke-width="0.6"/>
<line x1="434.08" y1="422.2" x2="434.08" y2="423.8" stroke="#000" stroke-width="0.6"/>
<line x1="436.11" y1="422.2" x2="436.11" y2="423.8" stroke="#000" stroke-width="0.6"/>
<line x1="437.76" y1="422.2" x2="437.76" y2="423.8" stroke="#000" stroke-width="0.6"/>
<line x1="439.16" y1="422.2" x2="439.16" y2="423.8" stroke="#000" stroke-width="0.6"/>
<line x1="440.37" y1="422.2" x2="440.37" y2="423.8" stroke="#000" stroke-width="0.6"/>
<line x1="441.44" y1="422.2" x2="441.44" y2="423.8" stroke="#000" stroke-width="0.6"/>
<line x1="400.6" y1="422.2" x2="400.6" y2="425.2" stroke="#000" stroke-width="1"/>
<text x="401.1" y="437" font-size="7.8" text-anchor="middle" fill="#333">10<tspan dy="-3" font-size="5.4">-5</tspan></text>
<line x1="406.89" y1="422.2" x2="406.89" y2="423.8" stroke="#000" stroke-width="0.6"/>
<line x1="410.57" y1="422.2" x2="410.57" y2="423.8" stroke="#000" stroke-width="0.6"/>
<line x1="413.18" y1="422.2" x2="413.18" y2="423.8" stroke="#000" stroke-width="0.6"/>
<line x1="415.21" y1="422.2" x2="415.21" y2="423.8" stroke="#000" stroke-width="0.6"/>
<line x1="416.86" y1="422.2" x2="416.86" y2="423.8" stroke="#000" stroke-width="0.6"/>
<line x1="418.26" y1="422.2" x2="418.26" y2="423.8" stroke="#000" stroke-width="0.6"/>
<line x1="419.47" y1="422.2" x2="419.47" y2="423.8" stroke="#000" stroke-width="0.6"/>
<line x1="420.54" y1="422.2" x2="420.54" y2="423.8" stroke="#000" stroke-width="0.6"/>
<line x1="379.7" y1="422.2" x2="379.7" y2="425.2" stroke="#000" stroke-width="1"/>
<text x="380.2" y="437" font-size="7.8" text-anchor="middle" fill="#333">10<tspan dy="-3" font-size="5.4">-6</tspan></text>
<line x1="385.99" y1="422.2" x2="385.99" y2="423.8" stroke="#000" stroke-width="0.6"/>
<line x1="389.67" y1="422.2" x2="389.67" y2="423.8" stroke="#000" stroke-width="0.6"/>
<line x1="392.28" y1="422.2" x2="392.28" y2="423.8" stroke="#000" stroke-width="0.6"/>
<line x1="394.31" y1="422.2" x2="394.31" y2="423.8" stroke="#000" stroke-width="0.6"/>
<line x1="395.96" y1="422.2" x2="395.96" y2="423.8" stroke="#000" stroke-width="0.6"/>
<line x1="397.36" y1="422.2" x2="397.36" y2="423.8" stroke="#000" stroke-width="0.6"/>
<line x1="398.57" y1="422.2" x2="398.57" y2="423.8" stroke="#000" stroke-width="0.6"/>
<line x1="399.64" y1="422.2" x2="399.64" y2="423.8" stroke="#000" stroke-width="0.6"/>
<text x="444.5" y="449.2" font-size="7.6" text-anchor="middle" fill="#333">PB</text>
<text transform="translate(354.5,358) rotate(-90)" font-size="7.4" text-anchor="middle" fill="#333">BM</text>
<path d="M502.5 294.4L504.4 296.3L502.5 298.2L500.6 296.3Z" fill="#8c1236"/>
<path d="M499.5 299.7L501.4 301.6L499.5 303.5L497.6 301.6Z" fill="#8c1236"/>
<path d="M498.4 303L500.3 304.9L498.4 306.8L496.5 304.9Z" fill="#8c1236"/>
<path d="M499.2 305L501.1 306.9L499.2 308.8L497.3 306.9Z" fill="#8c1236"/>
<path d="M481.8 301.9L483.7 303.8L481.8 305.7L479.9 303.8Z" fill="#8c1236"/>
<path d="M489.1 309.8L491 311.7L489.1 313.6L487.2 311.7Z" fill="#8c1236"/>
<path d="M488.3 315.1L490.2 317L488.3 318.9L486.4 317Z" fill="#8c1236"/>
<path d="M499.5 314.6L501.4 316.5L499.5 318.4L497.6 316.5Z" fill="#8c1236"/>
<path d="M481.8 316.6L483.7 318.5L481.8 320.4L479.9 318.5Z" fill="#8c1236"/>
<path d="M481.1 317.7L483 319.6L481.1 321.5L479.2 319.6Z" fill="#8c1236"/>
<path d="M487.6 318.5L489.5 320.4L487.6 322.3L485.7 320.4Z" fill="#8c1236"/>
<path d="M489.4 317.7L491.3 319.6L489.4 321.5L487.5 319.6Z" fill="#8c1236"/>
<path d="M476.1 320.6L478 322.5L476.1 324.4L474.2 322.5Z" fill="#8c1236"/>
<path d="M481.6 323.8L483.5 325.7L481.6 327.6L479.7 325.7Z" fill="#8c1236"/>
<path d="M486.6 325.7L488.5 327.6L486.6 329.5L484.7 327.6Z" fill="#8c1236"/>
<path d="M466.4 320.9L468.3 322.8L466.4 324.7L464.5 322.8Z" fill="#8c1236"/>
<path d="M463.5 322.8L465.4 324.7L463.5 326.6L461.6 324.7Z" fill="#8c1236"/>
<path d="M463.1 326.4L465 328.3L463.1 330.2L461.2 328.3Z" fill="#8c1236"/>
<path d="M456.2 326L458.1 327.9L456.2 329.8L454.3 327.9Z" fill="#8c1236"/>
<path d="M453.4 336.2L455.3 338.1L453.4 340L451.5 338.1Z" fill="#8c1236"/>
<path d="M476.8 334.3L478.7 336.2L476.8 338.1L474.9 336.2Z" fill="#8c1236"/>
<path d="M389.8 378.3L391.7 380.2L389.8 382.1L387.9 380.2Z" fill="#8c1236"/>
<path d="M413.6 380.2L415.5 382.1L413.6 384L411.7 382.1Z" fill="#8c1236"/>
<path d="M379.5 385.2L381.4 387.1L379.5 389L377.6 387.1Z" fill="#8c1236"/>
<path d="M488.2 316.5L490.1 318.4L488.2 320.3L486.3 318.4Z" fill="#8c1236"/>
<path d="M482.6 318.5L484.5 320.4L482.6 322.3L480.7 320.4Z" fill="#8c1236"/>
<text x="8" y="477" font-size="10" font-weight="bold" stroke="#000" stroke-width="0.22" fill="#000">F</text>
<line x1="26.4" y1="479.35" x2="26.4" y2="605.75" stroke="#222" stroke-width="1.3"/>
<line x1="85.6" y1="479.35" x2="85.6" y2="605.75" stroke="#222" stroke-width="1.3"/>
<line x1="136.3" y1="479.35" x2="136.3" y2="605.75" stroke="#222" stroke-width="1.3"/>
<line x1="186.8" y1="479.35" x2="186.8" y2="605.75" stroke="#222" stroke-width="1.3"/>
<line x1="235.4" y1="479.35" x2="235.4" y2="605.75" stroke="#222" stroke-width="1.3"/>
<line x1="25.75" y1="480" x2="236.05" y2="480" stroke="#222" stroke-width="1.3"/>
<line x1="25.75" y1="509.2" x2="236.05" y2="509.2" stroke="#222" stroke-width="1.3"/>
<line x1="25.75" y1="546.3" x2="236.05" y2="546.3" stroke="#222" stroke-width="1.3"/>
<line x1="25.75" y1="575.5" x2="236.05" y2="575.5" stroke="#222" stroke-width="1.3"/>
<line x1="25.75" y1="605.1" x2="236.05" y2="605.1" stroke="#222" stroke-width="1.3"/>
<text x="56" y="497" font-size="7.7" text-anchor="middle" font-weight="bold" stroke="#111" stroke-width="0.22" fill="#111">Months</text>
<text x="110.95" y="497" font-size="7.7" text-anchor="middle" font-weight="bold" stroke="#111" stroke-width="0.22" fill="#111">24</text>
<text x="161.55" y="497" font-size="7.7" text-anchor="middle" font-weight="bold" stroke="#111" stroke-width="0.22" fill="#111">36</text>
<text x="211.1" y="497" font-size="7.7" text-anchor="middle" font-weight="bold" stroke="#111" stroke-width="0.22" fill="#111">48</text>
<text x="56" y="525.6" font-size="7.7" text-anchor="middle" font-weight="bold" stroke="#111" stroke-width="0.22" fill="#111">PB &amp; BM</text>
<text x="56" y="535.3" font-size="7.7" text-anchor="middle" font-weight="bold" stroke="#111" stroke-width="0.22" fill="#111">pairs</text>
<text x="110.95" y="530.2" font-size="7.8" text-anchor="middle" fill="#333">58</text>
<text x="161.55" y="530.2" font-size="7.8" text-anchor="middle" fill="#333">51</text>
<text x="211.1" y="530.2" font-size="7.8" text-anchor="middle" fill="#333">26</text>
<text x="56" y="559" font-size="7.7" text-anchor="middle" font-weight="bold" stroke="#111" stroke-width="0.22" fill="#111">Spearman</text>
<text x="56" y="568.2" font-size="7.7" text-anchor="middle" font-weight="bold" stroke="#111" stroke-width="0.22" fill="#111">R</text>
<text x="110.95" y="564" font-size="7.8" text-anchor="middle" fill="#333">0.62</text>
<text x="161.55" y="564" font-size="7.8" text-anchor="middle" fill="#333">0.70</text>
<text x="211.1" y="564" font-size="7.8" text-anchor="middle" fill="#333">0.89</text>
<text x="56" y="593" font-size="7.7" text-anchor="middle" font-weight="bold" stroke="#111" stroke-width="0.22" font-style="italic" fill="#111">P</text>
<text x="110.95" y="593" font-size="7.8" text-anchor="middle" fill="#333">&lt;0.0001</text>
<text x="161.55" y="593" font-size="7.8" text-anchor="middle" fill="#333">&lt;0.0001</text>
<text x="211.1" y="593" font-size="7.8" text-anchor="middle" fill="#333">&lt;0.0001</text>
</svg>
</body></html>
